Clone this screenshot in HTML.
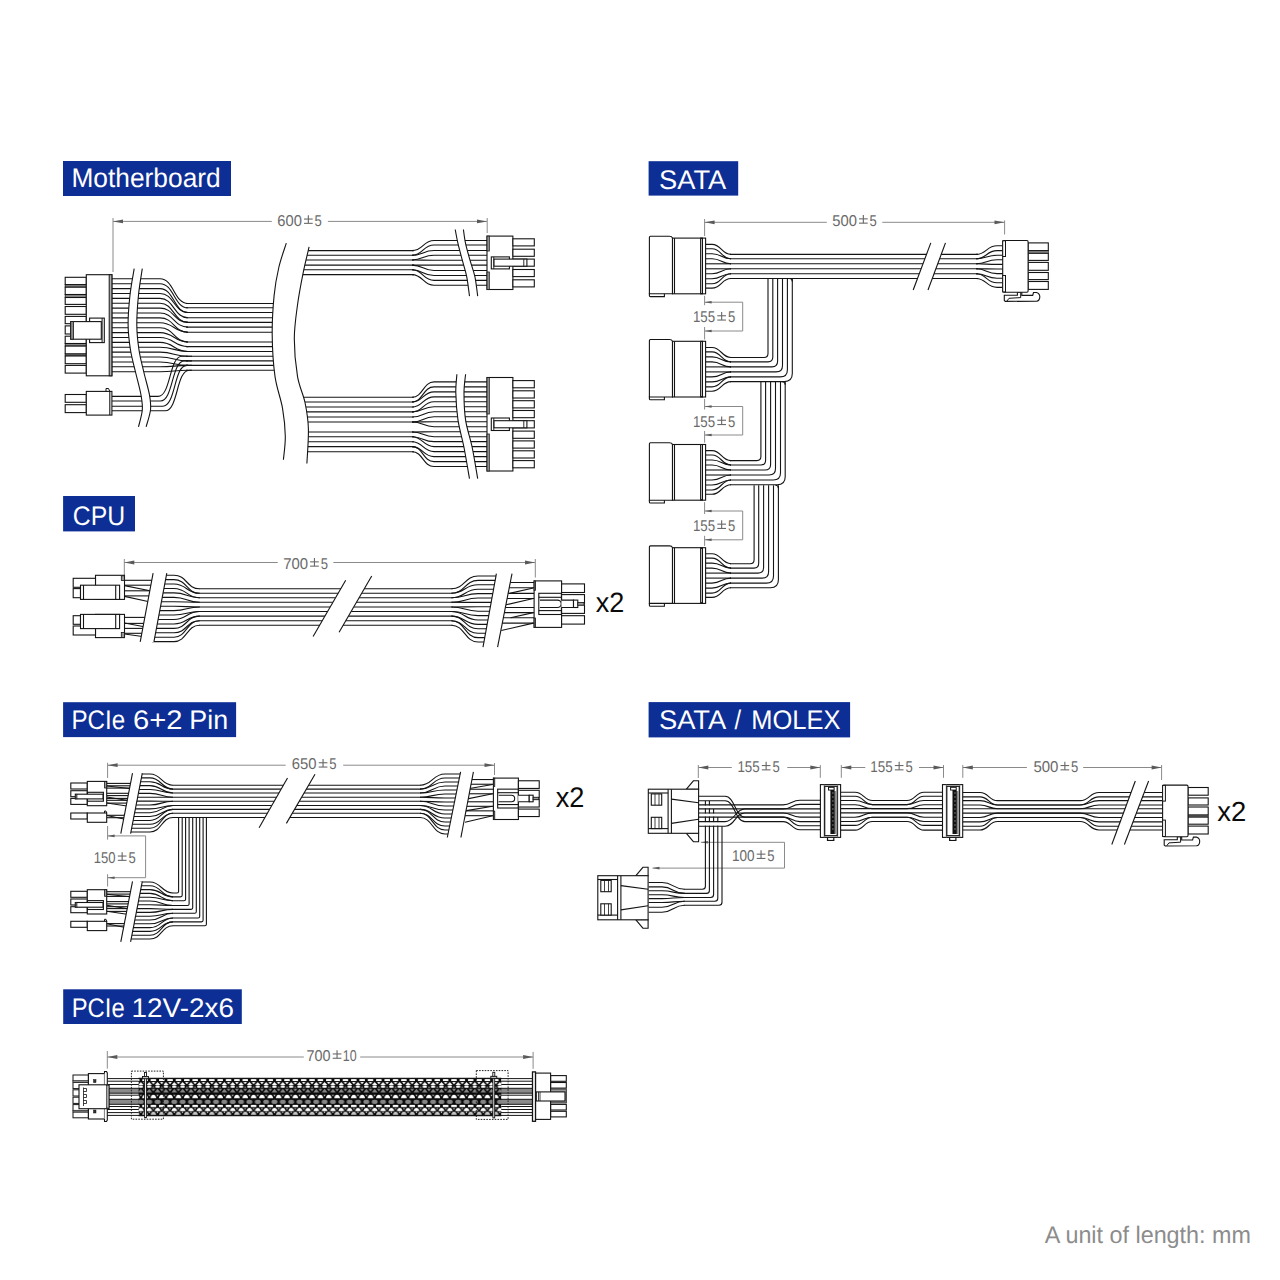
<!DOCTYPE html>
<html><head><meta charset="utf-8"><title>PSU cables</title>
<style>
html,body{margin:0;padding:0;background:#fff;}
svg{display:block;font-family:"Liberation Sans",sans-serif;text-rendering:geometricPrecision;}
</style></head><body>
<svg width="1280" height="1280" viewBox="0 0 1280 1280">
<defs><pattern id="braid" patternUnits="userSpaceOnUse" x="195.15" y="1078.1" width="8.35" height="37.7"><rect x="0" y="0" width="8.35" height="37.7" fill="#0a0a0a"/><rect x="-2.8" y="1.1" width="5.6" height="1.9" rx="0.6" fill="#ffffff"/><polygon points="-1.8,3.9 0,6.3 1.8,3.9" fill="#ffffff"/><polygon points="-1.1,9.7 0,7.9 1.1,9.7" fill="#858585"/><polygon points="-1.9,10.7 0,13.4 1.9,10.7" fill="#858585"/><path d="M-2.95,20 C-2.07,15.58 2.07,15.58 2.95,20 Z" fill="#ffffff"/><rect x="-2.8" y="26.7" width="5.6" height="2.3" rx="0.6" fill="#ffffff"/><ellipse cx="0" cy="30.6" rx="0.8" ry="0.7" fill="#ffffff"/><path d="M-2.8,36.6 C-1.96,32.57 1.96,32.57 2.8,36.6 Z" fill="#c4c4c4"/><rect x="5.55" y="1.1" width="5.6" height="1.9" rx="0.6" fill="#ffffff"/><polygon points="6.55,3.9 8.35,6.3 10.15,3.9" fill="#ffffff"/><polygon points="7.25,9.7 8.35,7.9 9.45,9.7" fill="#858585"/><polygon points="6.45,10.7 8.35,13.4 10.25,10.7" fill="#858585"/><path d="M5.4,20 C6.28,15.58 10.42,15.58 11.3,20 Z" fill="#ffffff"/><rect x="5.55" y="26.7" width="5.6" height="2.3" rx="0.6" fill="#ffffff"/><ellipse cx="8.35" cy="30.6" rx="0.8" ry="0.7" fill="#ffffff"/><path d="M5.55,36.6 C6.39,32.57 10.31,32.57 11.15,36.6 Z" fill="#c4c4c4"/><polygon points="1.38,6.9 4.17,3.9 6.97,6.9" fill="#ffffff"/><rect x="2.17" y="7.5" width="4" height="2.2" rx="0.6" fill="#ffffff"/><polygon points="1.27,14.5 4.17,10.7 7.07,14.5" fill="#858585"/><polygon points="3.07,16.7 4.17,18.3 5.28,16.7" fill="#c4c4c4"/><ellipse cx="4.17" cy="23.7" rx="2.95" ry="2.1" fill="#858585"/><path d="M1.22,33.1 C2.11,28.68 6.24,28.68 7.12,33.1 Z" fill="#ffffff"/><polygon points="3.17,33.6 4.17,35 5.17,33.6" fill="#ffffff"/></pattern></defs>
<rect x="0" y="0" width="1280" height="1280" fill="#fff"/>
<rect x="63" y="161" width="168" height="35" stroke="none" stroke-width="1.1" fill="#0d2e94" />
<text x="71.44" y="186.6" font-size="26.9" fill="#fff" text-anchor="start" font-weight="normal" textLength="149.26" lengthAdjust="spacingAndGlyphs">Motherboard</text>
<line x1="113" y1="218" x2="113" y2="272" stroke="#8a8a8a" stroke-width="1" />
<line x1="487.2" y1="218" x2="487.2" y2="233" stroke="#8a8a8a" stroke-width="1" />
<line x1="113" y1="221.4" x2="271.8" y2="221.4" stroke="#8a8a8a" stroke-width="1" />
<line x1="327.9" y1="221.4" x2="487" y2="221.4" stroke="#8a8a8a" stroke-width="1" />
<text x="277.35" y="225.75" font-size="15.6" fill="#6a6a6a" text-anchor="start" font-weight="normal" textLength="24.52" lengthAdjust="spacingAndGlyphs">600</text>
<text x="314.58" y="225.75" font-size="15.6" fill="#6a6a6a" text-anchor="start" font-weight="normal" textLength="7.27" lengthAdjust="spacingAndGlyphs">5</text>
<line x1="304" y1="219.05" x2="312.7" y2="219.05" stroke="#6a6a6a" stroke-width="1.1" />
<line x1="304" y1="223.35" x2="312.7" y2="223.35" stroke="#6a6a6a" stroke-width="1.1" />
<line x1="308.35" y1="215.25" x2="308.35" y2="223.35" stroke="#6a6a6a" stroke-width="1.15" />
<polygon points="113,221.4 123,219.5 123,223.3" stroke="none" stroke-width="1.1" fill="#5a5a5a"/>
<polygon points="487,221.4 477,219.5 477,223.3" stroke="none" stroke-width="1.1" fill="#5a5a5a"/>
<path d="M112,278.8 L160,278.8 C174,278.8 174,303.5 188,303.5" stroke="#141414" stroke-width="1.1" fill="none" />
<path d="M112,283.69 L160,283.69 C174,283.69 174,307.8 188,307.8" stroke="#141414" stroke-width="1.1" fill="none" />
<path d="M112,288.58 L160,288.58 C174,288.58 174,312.5 188,312.5" stroke="#141414" stroke-width="1.1" fill="none" />
<path d="M112,293.47 L160,293.47 C174,293.47 174,312.5 188,312.5" stroke="#141414" stroke-width="1.1" fill="none" />
<path d="M112,298.36 L160,298.36 C174,298.36 174,317.8 188,317.8" stroke="#141414" stroke-width="1.1" fill="none" />
<path d="M112,303.25 L160,303.25 C174,303.25 174,322.4 188,322.4" stroke="#141414" stroke-width="1.1" fill="none" />
<path d="M112,308.14 L160,308.14 C174,308.14 174,322.4 188,322.4" stroke="#141414" stroke-width="1.1" fill="none" />
<path d="M112,313.03 L160,313.03 C174,313.03 174,327.1 188,327.1" stroke="#141414" stroke-width="1.1" fill="none" />
<path d="M112,317.92 L160,317.92 C174,317.92 174,332.2 188,332.2" stroke="#141414" stroke-width="1.1" fill="none" />
<path d="M112,322.81 L160,322.81 C174,322.81 174,332.2 188,332.2" stroke="#141414" stroke-width="1.1" fill="none" />
<path d="M112,327.7 L160,327.7 C174,327.7 174,342 188,342" stroke="#141414" stroke-width="1.1" fill="none" />
<path d="M112,332.59 L160,332.59 C174,332.59 174,342 188,342" stroke="#141414" stroke-width="1.1" fill="none" />
<path d="M112,337.48 L160,337.48 C174,337.48 174,346.6 188,346.6" stroke="#141414" stroke-width="1.1" fill="none" />
<path d="M112,342.37 L160,342.37 C174,342.37 174,351.5 188,351.5" stroke="#141414" stroke-width="1.1" fill="none" />
<path d="M112,347.26 L160,347.26 C174,347.26 174,351.5 188,351.5" stroke="#141414" stroke-width="1.1" fill="none" />
<path d="M112,352.15 L160,352.15 C174,352.15 174,356.2 188,356.2" stroke="#141414" stroke-width="1.1" fill="none" />
<path d="M112,357.04 L160,357.04 C174,357.04 174,360.9 188,360.9" stroke="#141414" stroke-width="1.1" fill="none" />
<path d="M112,361.93 L160,361.93 C174,361.93 174,365.4 188,365.4" stroke="#141414" stroke-width="1.1" fill="none" />
<path d="M112,366.82 L160,366.82 C174,366.82 174,365.4 188,365.4" stroke="#141414" stroke-width="1.1" fill="none" />
<path d="M112,371.71 L160,371.71 C174,371.71 174,370.3 188,370.3" stroke="#141414" stroke-width="1.1" fill="none" />
<line x1="186" y1="303.5" x2="285" y2="303.5" stroke="#141414" stroke-width="1.1" />
<line x1="186" y1="307.8" x2="285" y2="307.8" stroke="#141414" stroke-width="1.1" />
<line x1="186" y1="312.5" x2="285" y2="312.5" stroke="#141414" stroke-width="1.1" />
<line x1="186" y1="317.8" x2="285" y2="317.8" stroke="#141414" stroke-width="1.1" />
<line x1="186" y1="322.4" x2="285" y2="322.4" stroke="#141414" stroke-width="1.1" />
<line x1="186" y1="327.1" x2="285" y2="327.1" stroke="#141414" stroke-width="1.1" />
<line x1="186" y1="332.2" x2="285" y2="332.2" stroke="#141414" stroke-width="1.1" />
<line x1="186" y1="342" x2="285" y2="342" stroke="#141414" stroke-width="1.1" />
<line x1="186" y1="346.6" x2="285" y2="346.6" stroke="#141414" stroke-width="1.1" />
<line x1="186" y1="351.5" x2="285" y2="351.5" stroke="#141414" stroke-width="1.1" />
<line x1="186" y1="356.2" x2="285" y2="356.2" stroke="#141414" stroke-width="1.1" />
<line x1="186" y1="360.9" x2="285" y2="360.9" stroke="#141414" stroke-width="1.1" />
<line x1="186" y1="365.4" x2="285" y2="365.4" stroke="#141414" stroke-width="1.1" />
<line x1="186" y1="370.3" x2="285" y2="370.3" stroke="#141414" stroke-width="1.1" />
<path d="M112,396.4 L158,396.4 C171,396.4 169,356.2 182,356.2 L192,356.2" stroke="#141414" stroke-width="1.1" fill="none" />
<path d="M112,401 L160.4,401 C173.4,401 171.4,360.9 184.4,360.9 L192,360.9" stroke="#141414" stroke-width="1.1" fill="none" />
<path d="M112,406.2 L162.8,406.2 C175.8,406.2 173.8,365.4 186.8,365.4 L192,365.4" stroke="#141414" stroke-width="1.1" fill="none" />
<path d="M112,410.7 L165.2,410.7 C178.2,410.7 176.2,370.3 189.2,370.3 L192,370.3" stroke="#141414" stroke-width="1.1" fill="none" />
<polygon points="134.2,268.6 133.99,269.86 133.72,271.43 133.39,273.26 133.03,275.31 132.63,277.55 132.22,279.93 131.8,282.41 131.39,284.96 130.99,287.53 130.62,290.09 130.28,292.59 130,295 129.75,297.39 129.5,299.85 129.26,302.36 129.04,304.92 128.83,307.5 128.64,310.09 128.47,312.67 128.33,315.24 128.22,317.77 128.14,320.25 128.1,322.66 128.1,325 128.14,327.27 128.22,329.49 128.34,331.67 128.49,333.81 128.66,335.92 128.87,338 129.1,340.05 129.35,342.07 129.62,344.08 129.9,346.06 130.2,348.04 130.5,350 130.82,351.94 131.18,353.83 131.56,355.69 131.96,357.52 132.37,359.33 132.81,361.12 133.25,362.91 133.7,364.7 134.15,366.5 134.61,368.31 135.06,370.14 135.5,372 135.95,373.91 136.44,375.87 136.94,377.87 137.45,379.89 137.97,381.92 138.48,383.94 138.98,385.93 139.46,387.89 139.91,389.79 140.32,391.62 140.69,393.36 141,395 141.27,396.52 141.52,397.94 141.74,399.27 141.93,400.53 142.1,401.73 142.23,402.89 142.33,404.03 142.4,405.16 142.43,406.31 142.43,407.49 142.38,408.71 142.3,410 142.15,411.39 141.92,412.89 141.62,414.47 141.27,416.09 140.89,417.72 140.48,419.34 140.07,420.9 139.67,422.38 139.3,423.74 138.97,424.95 138.7,425.98 138.5,426.8 146.1,426.8 146.33,425.98 146.64,424.95 147.02,423.74 147.44,422.38 147.89,420.9 148.36,419.34 148.83,417.72 149.27,416.09 149.68,414.47 150.03,412.89 150.31,411.39 150.5,410 150.62,408.71 150.7,407.49 150.74,406.31 150.74,405.16 150.7,404.03 150.63,402.89 150.52,401.73 150.38,400.53 150.21,399.27 150,397.94 149.77,396.52 149.5,395 149.19,393.36 148.81,391.62 148.38,389.79 147.91,387.89 147.41,385.93 146.89,383.94 146.35,381.92 145.81,379.89 145.27,377.87 144.75,375.87 144.26,373.91 143.8,372 143.36,370.14 142.92,368.31 142.48,366.5 142.04,364.7 141.6,362.91 141.18,361.12 140.77,359.33 140.37,357.52 140,355.69 139.64,353.83 139.31,351.94 139,350 138.71,348.04 138.44,346.06 138.18,344.08 137.93,342.07 137.7,340.05 137.49,338 137.31,335.92 137.15,333.81 137.01,331.67 136.91,329.49 136.84,327.27 136.8,325 136.8,322.66 136.83,320.25 136.9,317.77 137,315.24 137.13,312.67 137.28,310.09 137.45,307.5 137.63,304.92 137.84,302.36 138.05,299.85 138.27,297.39 138.5,295 138.76,292.59 139.06,290.09 139.39,287.53 139.75,284.96 140.13,282.41 140.51,279.93 140.88,277.55 141.24,275.31 141.57,273.26 141.86,271.43 142.11,269.86 142.3,268.6" stroke="none" stroke-width="1.1" fill="#fff"/>
<path d="M134.2,268.6 C133.5,273 131.02,285.6 130,295 C128.98,304.4 128.02,315.83 128.1,325 C128.18,334.17 129.27,342.17 130.5,350 C131.73,357.83 133.75,364.5 135.5,372 C137.25,379.5 139.87,388.67 141,395 C142.13,401.33 142.72,404.7 142.3,410 C141.88,415.3 139.13,424 138.5,426.8" stroke="#141414" stroke-width="1.1" fill="none" />
<path d="M142.3,268.6 C141.67,273 139.42,285.6 138.5,295 C137.58,304.4 136.72,315.83 136.8,325 C136.88,334.17 137.83,342.17 139,350 C140.17,357.83 142.05,364.5 143.8,372 C145.55,379.5 148.38,388.67 149.5,395 C150.62,401.33 151.07,404.7 150.5,410 C149.93,415.3 146.83,424 146.1,426.8" stroke="#141414" stroke-width="1.1" fill="none" />
<rect x="65.2" y="284.6" width="21.1" height="2.6" stroke="#141414" stroke-width="0.8" fill="#8a8a8a" />
<rect x="65.2" y="294.5" width="21.1" height="3" stroke="#141414" stroke-width="0.8" fill="#8a8a8a" />
<rect x="65.2" y="343.5" width="21.1" height="2.6" stroke="#141414" stroke-width="0.8" fill="#8a8a8a" />
<rect x="65.2" y="353.8" width="21.1" height="2.2" stroke="#141414" stroke-width="0.8" fill="#8a8a8a" />
<rect x="65.2" y="277.3" width="21.1" height="7.3" stroke="#141414" stroke-width="1.1" fill="#fff" />
<rect x="65.2" y="287.2" width="21.1" height="7.3" stroke="#141414" stroke-width="1.1" fill="#fff" />
<rect x="65.2" y="297.5" width="21.1" height="6.9" stroke="#141414" stroke-width="1.1" fill="#fff" />
<rect x="65.2" y="306.5" width="21.1" height="7.8" stroke="#141414" stroke-width="1.1" fill="#fff" />
<rect x="65.2" y="316.4" width="21.1" height="7.3" stroke="#141414" stroke-width="1.1" fill="#fff" />
<rect x="65.2" y="325.9" width="21.1" height="8.1" stroke="#141414" stroke-width="1.1" fill="#fff" />
<rect x="65.2" y="336.2" width="21.1" height="7.3" stroke="#141414" stroke-width="1.1" fill="#fff" />
<rect x="65.2" y="346.1" width="21.1" height="7.7" stroke="#141414" stroke-width="1.1" fill="#fff" />
<rect x="65.2" y="356" width="21.1" height="7.7" stroke="#141414" stroke-width="1.1" fill="#fff" />
<rect x="65.2" y="365.4" width="21.1" height="7.7" stroke="#141414" stroke-width="1.1" fill="#fff" />
<rect x="86.3" y="274.7" width="25.6" height="101.1" stroke="#141414" stroke-width="1.1" fill="#fff" />
<rect x="109.2" y="274.7" width="2.7" height="101.1" stroke="#141414" stroke-width="1" fill="#b0b0b0" />
<rect x="89.6" y="318.1" width="14.7" height="24.5" stroke="#141414" stroke-width="1.1" fill="#fff" />
<line x1="102.1" y1="318.1" x2="102.1" y2="342.6" stroke="#141414" stroke-width="1" />
<rect x="70.7" y="321.6" width="30.6" height="17.6" stroke="#141414" stroke-width="1.1" fill="#fff" />
<rect x="70.7" y="321.6" width="2.8" height="17.6" stroke="#141414" stroke-width="0.8" fill="#888" />
<rect x="65.2" y="394.5" width="21.1" height="7.8" stroke="#141414" stroke-width="1.1" fill="#fff" />
<rect x="65.2" y="404.7" width="21.1" height="7.9" stroke="#141414" stroke-width="1.1" fill="#fff" />
<rect x="86.3" y="391.4" width="25.6" height="23.7" stroke="#141414" stroke-width="1.1" fill="#fff" />
<line x1="109.8" y1="391.4" x2="109.8" y2="415.1" stroke="#141414" stroke-width="1.1" />
<path d="M106,391.4 L106,388.5 L108.5,388.5 L109.8,391.4" stroke="#141414" stroke-width="1" fill="none" />
<line x1="292" y1="250.6" x2="414" y2="250.6" stroke="#141414" stroke-width="1.1" />
<line x1="292" y1="255.3" x2="414" y2="255.3" stroke="#141414" stroke-width="1.1" />
<line x1="292" y1="260" x2="414" y2="260" stroke="#141414" stroke-width="1.1" />
<line x1="292" y1="265.1" x2="414" y2="265.1" stroke="#141414" stroke-width="1.1" />
<line x1="292" y1="269.8" x2="414" y2="269.8" stroke="#141414" stroke-width="1.1" />
<line x1="292" y1="274.6" x2="414" y2="274.6" stroke="#141414" stroke-width="1.1" />
<path d="M412,250.6 C423,250.6 423,240.5 434,240.5 L488,240.5" stroke="#141414" stroke-width="1.1" fill="none" />
<path d="M412,255.3 C423,255.3 423,245 434,245 L488,245" stroke="#141414" stroke-width="1.1" fill="none" />
<path d="M412,255.3 C423,255.3 423,250.5 434,250.5 L488,250.5" stroke="#141414" stroke-width="1.1" fill="none" />
<path d="M412,260 C423,260 423,255.2 434,255.2 L488,255.2" stroke="#141414" stroke-width="1.1" fill="none" />
<path d="M412,260 C423,260 423,260.2 434,260.2 L488,260.2" stroke="#141414" stroke-width="1.1" fill="none" />
<path d="M412,265.1 L434,265.1 L488,265.1" stroke="#141414" stroke-width="1.1" fill="none" />
<path d="M412,265.1 C423,265.1 423,270.5 434,270.5 L488,270.5" stroke="#141414" stroke-width="1.1" fill="none" />
<path d="M412,269.8 C423,269.8 423,275.5 434,275.5 L488,275.5" stroke="#141414" stroke-width="1.1" fill="none" />
<path d="M412,269.8 C423,269.8 423,280.4 434,280.4 L488,280.4" stroke="#141414" stroke-width="1.1" fill="none" />
<path d="M412,274.6 C423,274.6 423,285.3 434,285.3 L488,285.3" stroke="#141414" stroke-width="1.1" fill="none" />
<line x1="292" y1="397.3" x2="414" y2="397.3" stroke="#141414" stroke-width="1.1" />
<line x1="292" y1="402" x2="414" y2="402" stroke="#141414" stroke-width="1.1" />
<line x1="292" y1="407" x2="414" y2="407" stroke="#141414" stroke-width="1.1" />
<line x1="292" y1="411.9" x2="414" y2="411.9" stroke="#141414" stroke-width="1.1" />
<line x1="292" y1="417" x2="414" y2="417" stroke="#141414" stroke-width="1.1" />
<line x1="292" y1="422" x2="414" y2="422" stroke="#141414" stroke-width="1.1" />
<line x1="292" y1="432" x2="414" y2="432" stroke="#141414" stroke-width="1.1" />
<line x1="292" y1="436.7" x2="414" y2="436.7" stroke="#141414" stroke-width="1.1" />
<line x1="292" y1="441.7" x2="414" y2="441.7" stroke="#141414" stroke-width="1.1" />
<line x1="292" y1="446.6" x2="414" y2="446.6" stroke="#141414" stroke-width="1.1" />
<line x1="292" y1="451.7" x2="414" y2="451.7" stroke="#141414" stroke-width="1.1" />
<path d="M412,397.3 C423,397.3 423,381.9 434,381.9 L488,381.9" stroke="#141414" stroke-width="1.1" fill="none" />
<path d="M412,402 C423,402 423,386.88 434,386.88 L488,386.88" stroke="#141414" stroke-width="1.1" fill="none" />
<path d="M412,402 C423,402 423,391.86 434,391.86 L488,391.86" stroke="#141414" stroke-width="1.1" fill="none" />
<path d="M412,407 C423,407 423,396.84 434,396.84 L488,396.84" stroke="#141414" stroke-width="1.1" fill="none" />
<path d="M412,411.9 C423,411.9 423,401.82 434,401.82 L488,401.82" stroke="#141414" stroke-width="1.1" fill="none" />
<path d="M412,411.9 C423,411.9 423,406.8 434,406.8 L488,406.8" stroke="#141414" stroke-width="1.1" fill="none" />
<path d="M412,417 C423,417 423,411.78 434,411.78 L488,411.78" stroke="#141414" stroke-width="1.1" fill="none" />
<path d="M412,422 C423,422 423,416.76 434,416.76 L488,416.76" stroke="#141414" stroke-width="1.1" fill="none" />
<path d="M412,422 C423,422 423,421.74 434,421.74 L488,421.74" stroke="#141414" stroke-width="1.1" fill="none" />
<path d="M412,422 C423,422 423,426.72 434,426.72 L488,426.72" stroke="#141414" stroke-width="1.1" fill="none" />
<path d="M412,432 C423,432 423,431.7 434,431.7 L488,431.7" stroke="#141414" stroke-width="1.1" fill="none" />
<path d="M412,432 C423,432 423,436.68 434,436.68 L488,436.68" stroke="#141414" stroke-width="1.1" fill="none" />
<path d="M412,436.7 C423,436.7 423,441.66 434,441.66 L488,441.66" stroke="#141414" stroke-width="1.1" fill="none" />
<path d="M412,436.7 C423,436.7 423,446.64 434,446.64 L488,446.64" stroke="#141414" stroke-width="1.1" fill="none" />
<path d="M412,441.7 C423,441.7 423,451.62 434,451.62 L488,451.62" stroke="#141414" stroke-width="1.1" fill="none" />
<path d="M412,446.6 C423,446.6 423,456.6 434,456.6 L488,456.6" stroke="#141414" stroke-width="1.1" fill="none" />
<path d="M412,446.6 C423,446.6 423,461.58 434,461.58 L488,461.58" stroke="#141414" stroke-width="1.1" fill="none" />
<path d="M412,451.7 C423,451.7 423,466.56 434,466.56 L488,466.56" stroke="#141414" stroke-width="1.1" fill="none" />
<polygon points="286.3,243.1 285.93,244.27 285.45,245.71 284.89,247.4 284.25,249.29 283.56,251.35 282.84,253.54 282.11,255.84 281.37,258.19 280.65,260.57 279.97,262.94 279.35,265.26 278.8,267.5 278.3,269.68 277.82,271.84 277.36,274 276.92,276.17 276.5,278.37 276.1,280.61 275.72,282.9 275.36,285.26 275.01,287.69 274.69,290.22 274.38,292.85 274.1,295.6 273.83,298.48 273.57,301.49 273.32,304.61 273.09,307.83 272.87,311.12 272.68,314.48 272.52,317.88 272.38,321.31 272.28,324.75 272.21,328.19 272.18,331.61 272.2,335 272.25,338.41 272.34,341.88 272.46,345.41 272.61,348.98 272.8,352.55 273.01,356.12 273.26,359.67 273.54,363.17 273.86,366.6 274.21,369.94 274.59,373.18 275,376.3 275.48,379.29 276.03,382.19 276.65,385 277.33,387.74 278.03,390.41 278.75,393.02 279.47,395.59 280.17,398.12 280.85,400.63 281.47,403.12 282.02,405.61 282.5,408.1 282.91,410.59 283.29,413.06 283.64,415.52 283.96,417.94 284.24,420.35 284.49,422.73 284.7,425.07 284.89,427.39 285.04,429.67 285.16,431.92 285.25,434.13 285.3,436.3 285.3,438.49 285.23,440.75 285.11,443.04 284.94,445.32 284.75,447.58 284.52,449.76 284.29,451.85 284.07,453.81 283.85,455.61 283.66,457.21 283.51,458.58 283.4,459.7 306.9,463.4 306.99,461.7 307.12,459.54 307.28,456.99 307.47,454.12 307.67,451.02 307.86,447.74 308.05,444.38 308.21,441 308.33,437.68 308.42,434.49 308.44,431.5 308.4,428.8 308.3,426.32 308.16,423.94 307.99,421.64 307.78,419.41 307.54,417.25 307.26,415.12 306.96,413.03 306.62,410.95 306.25,408.87 305.86,406.78 305.44,404.66 305,402.5 304.5,400.35 303.94,398.26 303.31,396.21 302.64,394.18 301.95,392.15 301.24,390.1 300.53,388.01 299.83,385.87 299.17,383.64 298.55,381.32 297.99,378.88 297.5,376.3 297.06,373.56 296.64,370.66 296.25,367.63 295.88,364.5 295.54,361.29 295.23,358.02 294.96,354.73 294.73,351.44 294.55,348.18 294.41,344.97 294.33,341.83 294.3,338.8 294.33,335.85 294.44,332.93 294.59,330.05 294.8,327.19 295.06,324.36 295.35,321.55 295.67,318.76 296.02,315.99 296.38,313.23 296.75,310.48 297.13,307.74 297.5,305 297.88,302.26 298.29,299.51 298.72,296.76 299.17,294.01 299.64,291.29 300.12,288.58 300.62,285.89 301.11,283.24 301.62,280.63 302.12,278.06 302.61,275.55 303.1,273.1 303.61,270.63 304.15,268.1 304.71,265.54 305.29,262.97 305.88,260.45 306.45,258.01 307.01,255.67 307.53,253.48 308.01,251.47 308.44,249.68 308.81,248.15 309.1,246.9" stroke="none" stroke-width="1.1" fill="#fff"/>
<path d="M286.3,243.1 C285.05,247.17 280.83,258.75 278.8,267.5 C276.77,276.25 275.2,284.35 274.1,295.6 C273,306.85 272.05,321.55 272.2,335 C272.35,348.45 273.28,364.12 275,376.3 C276.72,388.48 280.78,398.1 282.5,408.1 C284.22,418.1 285.15,427.7 285.3,436.3 C285.45,444.9 283.72,455.8 283.4,459.7" stroke="#141414" stroke-width="1.1" fill="none" />
<path d="M309.1,246.9 C308.1,251.27 305.03,263.42 303.1,273.1 C301.17,282.78 298.97,294.05 297.5,305 C296.03,315.95 294.3,326.92 294.3,338.8 C294.3,350.68 295.72,365.68 297.5,376.3 C299.28,386.92 303.18,393.75 305,402.5 C306.82,411.25 308.08,418.65 308.4,428.8 C308.72,438.95 307.15,457.63 306.9,463.4" stroke="#141414" stroke-width="1.1" fill="none" />
<polygon points="455.2,229.5 455.33,230.18 455.49,231.02 455.67,232 455.87,233.1 456.09,234.29 456.33,235.57 456.59,236.9 456.85,238.27 457.13,239.66 457.41,241.04 457.71,242.39 458,243.7 458.31,244.99 458.63,246.32 458.97,247.67 459.32,249.03 459.68,250.42 460.05,251.81 460.43,253.22 460.8,254.62 461.18,256.03 461.56,257.43 461.93,258.82 462.3,260.2 462.67,261.56 463.05,262.9 463.43,264.23 463.82,265.56 464.21,266.88 464.59,268.21 464.98,269.54 465.35,270.9 465.71,272.28 466.06,273.68 466.39,275.12 466.7,276.6 467,278.18 467.29,279.91 467.58,281.73 467.86,283.62 468.12,285.53 468.38,287.43 468.61,289.26 468.83,291 469.03,292.6 469.21,294.03 469.37,295.24 469.5,296.2 477.7,296.2 477.57,295.24 477.42,294.03 477.25,292.6 477.05,291 476.84,289.26 476.61,287.43 476.36,285.53 476.09,283.62 475.81,281.73 475.52,279.91 475.22,278.18 474.9,276.6 474.56,275.12 474.2,273.68 473.81,272.28 473.4,270.9 472.98,269.54 472.55,268.21 472.11,266.88 471.67,265.56 471.24,264.23 470.81,262.9 470.4,261.56 470,260.2 469.61,258.82 469.21,257.43 468.81,256.03 468.41,254.62 468.02,253.22 467.63,251.81 467.25,250.42 466.89,249.03 466.53,247.67 466.2,246.32 465.89,244.99 465.6,243.7 465.33,242.39 465.08,241.04 464.84,239.66 464.62,238.27 464.42,236.9 464.22,235.57 464.05,234.29 463.89,233.1 463.74,232 463.61,231.02 463.5,230.18 463.4,229.5" stroke="none" stroke-width="1.1" fill="#fff"/>
<path d="M455.2,229.5 C455.67,231.87 456.82,238.58 458,243.7 C459.18,248.82 460.85,254.72 462.3,260.2 C463.75,265.68 465.5,270.6 466.7,276.6 C467.9,282.6 469.03,292.93 469.5,296.2" stroke="#141414" stroke-width="1.1" fill="none" />
<path d="M463.4,229.5 C463.77,231.87 464.5,238.58 465.6,243.7 C466.7,248.82 468.45,254.72 470,260.2 C471.55,265.68 473.62,270.6 474.9,276.6 C476.18,282.6 477.23,292.93 477.7,296.2" stroke="#141414" stroke-width="1.1" fill="none" />
<polygon points="456.9,374.2 456.84,375.07 456.74,376.12 456.62,377.34 456.49,378.7 456.35,380.19 456.21,381.79 456.08,383.48 455.96,385.26 455.87,387.1 455.81,388.98 455.78,390.88 455.8,392.8 455.86,394.78 455.93,396.86 456.03,399.03 456.15,401.29 456.29,403.6 456.46,405.96 456.65,408.34 456.86,410.75 457.11,413.15 457.38,415.54 457.67,417.89 458,420.2 458.37,422.47 458.79,424.71 459.24,426.94 459.74,429.16 460.26,431.38 460.79,433.61 461.34,435.85 461.9,438.11 462.45,440.4 462.98,442.73 463.51,445.09 464,447.5 464.49,450.06 465.01,452.84 465.54,455.76 466.07,458.77 466.61,461.8 467.12,464.81 467.62,467.71 468.09,470.47 468.52,473 468.91,475.26 469.24,477.18 469.5,478.7 477.7,478.7 477.44,477.18 477.11,475.26 476.74,473 476.31,470.47 475.85,467.71 475.36,464.81 474.85,461.8 474.32,458.77 473.78,455.76 473.24,452.84 472.71,450.06 472.2,447.5 471.67,445.09 471.11,442.73 470.51,440.4 469.9,438.11 469.27,435.85 468.66,433.61 468.05,431.38 467.47,429.16 466.92,426.94 466.42,424.71 465.98,422.47 465.6,420.2 465.28,417.89 465.01,415.54 464.77,413.15 464.58,410.75 464.42,408.34 464.29,405.96 464.19,403.6 464.11,401.29 464.06,399.03 464.02,396.86 464.01,394.78 464,392.8 464.03,390.88 464.1,388.98 464.21,387.1 464.36,385.26 464.52,383.48 464.7,381.79 464.88,380.19 465.07,378.7 465.24,377.34 465.39,376.12 465.51,375.07 465.6,374.2" stroke="none" stroke-width="1.1" fill="#fff"/>
<path d="M456.9,374.2 C456.72,377.3 455.62,385.13 455.8,392.8 C455.98,400.47 456.63,411.08 458,420.2 C459.37,429.32 462.08,437.75 464,447.5 C465.92,457.25 468.58,473.5 469.5,478.7" stroke="#141414" stroke-width="1.1" fill="none" />
<path d="M465.6,374.2 C465.33,377.3 464,385.13 464,392.8 C464,400.47 464.23,411.08 465.6,420.2 C466.97,429.32 470.18,437.75 472.2,447.5 C474.22,457.25 476.78,473.5 477.7,478.7" stroke="#141414" stroke-width="1.1" fill="none" />
<rect x="487" y="236.1" width="25.9" height="53.4" stroke="#141414" stroke-width="1.1" fill="#fff" />
<rect x="487" y="236.1" width="2.3" height="14.9" stroke="#141414" stroke-width="0.8" fill="#999" />
<rect x="487" y="272" width="2.3" height="17.5" stroke="#141414" stroke-width="0.8" fill="#999" />
<rect x="512.9" y="238.8" width="21.4" height="7.1" stroke="#141414" stroke-width="1.1" fill="#fff" />
<rect x="512.9" y="249.2" width="21.4" height="7.1" stroke="#141414" stroke-width="1.1" fill="#fff" />
<rect x="512.9" y="259.1" width="21.4" height="7.1" stroke="#141414" stroke-width="1.1" fill="#fff" />
<rect x="512.9" y="269.5" width="21.4" height="7.1" stroke="#141414" stroke-width="1.1" fill="#fff" />
<rect x="512.9" y="279.8" width="21.4" height="7.1" stroke="#141414" stroke-width="1.1" fill="#fff" />
<rect x="491.3" y="256.9" width="18.1" height="12" stroke="#141414" stroke-width="1.1" fill="#fff" />
<line x1="493.8" y1="256.9" x2="493.8" y2="268.9" stroke="#141414" stroke-width="0.9" />
<rect x="494" y="259.1" width="32.9" height="7.1" stroke="#141414" stroke-width="1.1" fill="#fff" />
<line x1="523.8" y1="259.1" x2="523.8" y2="266.2" stroke="#141414" stroke-width="0.9" />
<rect x="487" y="377.5" width="25.9" height="93.5" stroke="#141414" stroke-width="1.1" fill="#fff" />
<rect x="487" y="377.5" width="2.3" height="36.5" stroke="#141414" stroke-width="0.8" fill="#999" />
<rect x="487" y="434" width="2.3" height="37" stroke="#141414" stroke-width="0.8" fill="#999" />
<rect x="512.9" y="380.6" width="21.4" height="7.2" stroke="#141414" stroke-width="1.1" fill="#fff" />
<rect x="512.9" y="390.8" width="21.4" height="7.2" stroke="#141414" stroke-width="1.1" fill="#fff" />
<rect x="512.9" y="400.7" width="21.4" height="7.2" stroke="#141414" stroke-width="1.1" fill="#fff" />
<rect x="512.9" y="410.5" width="21.4" height="7.2" stroke="#141414" stroke-width="1.1" fill="#fff" />
<rect x="512.9" y="420.7" width="21.4" height="7.2" stroke="#141414" stroke-width="1.1" fill="#fff" />
<rect x="512.9" y="431.1" width="21.4" height="7.2" stroke="#141414" stroke-width="1.1" fill="#fff" />
<rect x="512.9" y="440.9" width="21.4" height="7.2" stroke="#141414" stroke-width="1.1" fill="#fff" />
<rect x="512.9" y="450.8" width="21.4" height="7.2" stroke="#141414" stroke-width="1.1" fill="#fff" />
<rect x="512.9" y="460.6" width="21.4" height="7.2" stroke="#141414" stroke-width="1.1" fill="#fff" />
<rect x="491.3" y="418" width="18.1" height="12.5" stroke="#141414" stroke-width="1.1" fill="#fff" />
<line x1="493.8" y1="418" x2="493.8" y2="430.5" stroke="#141414" stroke-width="0.9" />
<rect x="494" y="420.7" width="32.9" height="7.1" stroke="#141414" stroke-width="1.1" fill="#fff" />
<line x1="523.8" y1="420.7" x2="523.8" y2="427.8" stroke="#141414" stroke-width="0.9" />
<rect x="63.1" y="496" width="71.9" height="35.4" stroke="none" stroke-width="1.1" fill="#0d2e94" />
<text x="72.74" y="525.4" font-size="26.9" fill="#fff" text-anchor="start" font-weight="normal" textLength="52.37" lengthAdjust="spacingAndGlyphs">CPU</text>
<line x1="124.3" y1="559" x2="124.3" y2="577" stroke="#8a8a8a" stroke-width="1" />
<line x1="535.3" y1="559" x2="535.3" y2="577.5" stroke="#8a8a8a" stroke-width="1" />
<line x1="124.3" y1="562.5" x2="277.7" y2="562.5" stroke="#8a8a8a" stroke-width="1" />
<line x1="333.4" y1="562.5" x2="535" y2="562.5" stroke="#8a8a8a" stroke-width="1" />
<text x="283.14" y="568.55" font-size="15.6" fill="#6a6a6a" text-anchor="start" font-weight="normal" textLength="24.85" lengthAdjust="spacingAndGlyphs">700</text>
<text x="320.68" y="568.55" font-size="15.6" fill="#6a6a6a" text-anchor="start" font-weight="normal" textLength="7.27" lengthAdjust="spacingAndGlyphs">5</text>
<line x1="310.1" y1="561.85" x2="318.8" y2="561.85" stroke="#6a6a6a" stroke-width="1.1" />
<line x1="310.1" y1="566.15" x2="318.8" y2="566.15" stroke="#6a6a6a" stroke-width="1.1" />
<line x1="314.45" y1="558.05" x2="314.45" y2="566.15" stroke="#6a6a6a" stroke-width="1.15" />
<polygon points="124.3,562.5 134.3,560.6 134.3,564.4" stroke="none" stroke-width="1.1" fill="#5a5a5a"/>
<polygon points="535,562.5 525,560.6 525,564.4" stroke="none" stroke-width="1.1" fill="#5a5a5a"/>
<line x1="124.5" y1="580.3" x2="152" y2="580.3" stroke="#141414" stroke-width="1.1" />
<line x1="124.5" y1="585.2" x2="152" y2="585.2" stroke="#141414" stroke-width="1.1" />
<line x1="124.5" y1="590.8" x2="152" y2="590.8" stroke="#141414" stroke-width="1.1" />
<line x1="124.5" y1="595.9" x2="152" y2="595.9" stroke="#141414" stroke-width="1.1" />
<line x1="124.5" y1="585.6" x2="150" y2="590.8" stroke="#141414" stroke-width="1.1" />
<line x1="124.5" y1="596.4" x2="148" y2="601.5" stroke="#141414" stroke-width="1.1" />
<line x1="124.5" y1="617.4" x2="152" y2="617.4" stroke="#141414" stroke-width="1.1" />
<line x1="124.5" y1="623.4" x2="152" y2="623.4" stroke="#141414" stroke-width="1.1" />
<line x1="124.5" y1="628.4" x2="152" y2="628.4" stroke="#141414" stroke-width="1.1" />
<line x1="124.5" y1="633.3" x2="152" y2="633.3" stroke="#141414" stroke-width="1.1" />
<line x1="124.5" y1="623" x2="148" y2="627.5" stroke="#141414" stroke-width="1.1" />
<line x1="124.5" y1="634" x2="146" y2="637" stroke="#141414" stroke-width="1.1" />
<path d="M164.42,575.2 L174,575.2 C186.75,575.2 186.75,588.8 199.5,588.8" stroke="#141414" stroke-width="1.1" fill="none" />
<path d="M163.59,579.63 L174,579.63 C186.75,579.63 186.75,593.3 199.5,593.3" stroke="#141414" stroke-width="1.1" fill="none" />
<path d="M162.76,584.06 L174,584.06 C186.75,584.06 186.75,593.3 199.5,593.3" stroke="#141414" stroke-width="1.1" fill="none" />
<path d="M161.93,588.49 L174,588.49 C186.75,588.49 186.75,597.8 199.5,597.8" stroke="#141414" stroke-width="1.1" fill="none" />
<path d="M161.1,592.92 L174,592.92 C186.75,592.92 186.75,597.8 199.5,597.8" stroke="#141414" stroke-width="1.1" fill="none" />
<path d="M160.27,597.35 L174,597.35 C186.75,597.35 186.75,602.3 199.5,602.3" stroke="#141414" stroke-width="1.1" fill="none" />
<path d="M159.43,601.78 L174,601.78 C186.75,601.78 186.75,602.3 199.5,602.3" stroke="#141414" stroke-width="1.1" fill="none" />
<path d="M158.6,606.21 L174,606.21 C186.75,606.21 186.75,607 199.5,607" stroke="#141414" stroke-width="1.1" fill="none" />
<path d="M157.77,610.64 L174,610.64 C186.75,610.64 186.75,607 199.5,607" stroke="#141414" stroke-width="1.1" fill="none" />
<path d="M156.94,615.07 L174,615.07 C186.75,615.07 186.75,611.5 199.5,611.5" stroke="#141414" stroke-width="1.1" fill="none" />
<path d="M156.11,619.5 L174,619.5 C186.75,619.5 186.75,611.5 199.5,611.5" stroke="#141414" stroke-width="1.1" fill="none" />
<path d="M155.27,623.93 L174,623.93 C186.75,623.93 186.75,616.1 199.5,616.1" stroke="#141414" stroke-width="1.1" fill="none" />
<path d="M154.44,628.36 L174,628.36 C186.75,628.36 186.75,616.1 199.5,616.1" stroke="#141414" stroke-width="1.1" fill="none" />
<path d="M153.61,632.79 L174,632.79 C186.75,632.79 186.75,620.7 199.5,620.7" stroke="#141414" stroke-width="1.1" fill="none" />
<path d="M152.78,637.22 L174,637.22 C186.75,637.22 186.75,620.7 199.5,620.7" stroke="#141414" stroke-width="1.1" fill="none" />
<path d="M151.95,641.65 L174,641.65 C186.75,641.65 186.75,625.2 199.5,625.2" stroke="#141414" stroke-width="1.1" fill="none" />
<line x1="199" y1="588.8" x2="452.5" y2="588.8" stroke="#141414" stroke-width="1.1" />
<line x1="199" y1="593.3" x2="452.5" y2="593.3" stroke="#141414" stroke-width="1.1" />
<line x1="199" y1="597.8" x2="452.5" y2="597.8" stroke="#141414" stroke-width="1.1" />
<line x1="199" y1="602.3" x2="452.5" y2="602.3" stroke="#141414" stroke-width="1.1" />
<line x1="199" y1="607" x2="452.5" y2="607" stroke="#141414" stroke-width="1.1" />
<line x1="199" y1="611.5" x2="452.5" y2="611.5" stroke="#141414" stroke-width="1.1" />
<line x1="199" y1="616.1" x2="452.5" y2="616.1" stroke="#141414" stroke-width="1.1" />
<line x1="199" y1="620.7" x2="452.5" y2="620.7" stroke="#141414" stroke-width="1.1" />
<line x1="199" y1="625.2" x2="452.5" y2="625.2" stroke="#141414" stroke-width="1.1" />
<path d="M451.5,588.8 C464.75,588.8 464.75,576 478,576 L497.98,576" stroke="#141414" stroke-width="1.1" fill="none" />
<path d="M451.5,593.3 C464.75,593.3 464.75,580.4 478,580.4 L497.18,580.4" stroke="#141414" stroke-width="1.1" fill="none" />
<path d="M451.5,593.3 C464.75,593.3 464.75,584.8 478,584.8 L496.38,584.8" stroke="#141414" stroke-width="1.1" fill="none" />
<path d="M451.5,597.8 C464.75,597.8 464.75,589.2 478,589.2 L495.57,589.2" stroke="#141414" stroke-width="1.1" fill="none" />
<path d="M451.5,597.8 C464.75,597.8 464.75,593.6 478,593.6 L494.77,593.6" stroke="#141414" stroke-width="1.1" fill="none" />
<path d="M451.5,602.3 C464.75,602.3 464.75,598 478,598 L493.97,598" stroke="#141414" stroke-width="1.1" fill="none" />
<path d="M451.5,602.3 C464.75,602.3 464.75,602.4 478,602.4 L493.17,602.4" stroke="#141414" stroke-width="1.1" fill="none" />
<path d="M451.5,607 C464.75,607 464.75,606.8 478,606.8 L492.37,606.8" stroke="#141414" stroke-width="1.1" fill="none" />
<path d="M451.5,607 C464.75,607 464.75,611.2 478,611.2 L491.56,611.2" stroke="#141414" stroke-width="1.1" fill="none" />
<path d="M451.5,611.5 C464.75,611.5 464.75,615.6 478,615.6 L490.76,615.6" stroke="#141414" stroke-width="1.1" fill="none" />
<path d="M451.5,611.5 C464.75,611.5 464.75,620 478,620 L489.96,620" stroke="#141414" stroke-width="1.1" fill="none" />
<path d="M451.5,616.1 C464.75,616.1 464.75,624.4 478,624.4 L489.16,624.4" stroke="#141414" stroke-width="1.1" fill="none" />
<path d="M451.5,616.1 C464.75,616.1 464.75,628.8 478,628.8 L488.35,628.8" stroke="#141414" stroke-width="1.1" fill="none" />
<path d="M451.5,620.7 C464.75,620.7 464.75,633.2 478,633.2 L487.55,633.2" stroke="#141414" stroke-width="1.1" fill="none" />
<path d="M451.5,620.7 C464.75,620.7 464.75,637.6 478,637.6 L486.75,637.6" stroke="#141414" stroke-width="1.1" fill="none" />
<path d="M451.5,625.2 C464.75,625.2 464.75,642 478,642 L485.95,642" stroke="#141414" stroke-width="1.1" fill="none" />
<polygon points="153.1,573.2 140.2,641.9 153.9,641.9 166.8,573.2" stroke="none" stroke-width="1.1" fill="#fff"/>
<line x1="153.1" y1="573.2" x2="140.2" y2="641.9" stroke="#141414" stroke-width="1.1" />
<line x1="166.8" y1="573.2" x2="153.9" y2="641.9" stroke="#141414" stroke-width="1.1" />
<polygon points="345.7,580.2 313.1,636.5 339.1,632.3 371.7,576" stroke="none" stroke-width="1.1" fill="#fff"/>
<line x1="345.7" y1="580.2" x2="313.1" y2="636.5" stroke="#141414" stroke-width="1.1" />
<line x1="371.7" y1="576" x2="339.1" y2="632.3" stroke="#141414" stroke-width="1.1" />
<line x1="500" y1="582.5" x2="534.5" y2="582.5" stroke="#141414" stroke-width="1.1" />
<line x1="500" y1="587.8" x2="534.5" y2="587.8" stroke="#141414" stroke-width="1.1" />
<line x1="500" y1="593.4" x2="534.5" y2="593.4" stroke="#141414" stroke-width="1.1" />
<line x1="500" y1="598.5" x2="534.5" y2="598.5" stroke="#141414" stroke-width="1.1" />
<line x1="500" y1="607.5" x2="534.5" y2="607.5" stroke="#141414" stroke-width="1.1" />
<line x1="500" y1="612.6" x2="534.5" y2="612.6" stroke="#141414" stroke-width="1.1" />
<line x1="500" y1="617.7" x2="534.5" y2="617.7" stroke="#141414" stroke-width="1.1" />
<line x1="500" y1="623.1" x2="534.5" y2="623.1" stroke="#141414" stroke-width="1.1" />
<line x1="509.5" y1="593.4" x2="533.3" y2="588" stroke="#141414" stroke-width="1.1" />
<line x1="505.9" y1="604.8" x2="533.3" y2="598.5" stroke="#141414" stroke-width="1.1" />
<line x1="510.6" y1="617.7" x2="533.3" y2="612.6" stroke="#141414" stroke-width="1.1" />
<line x1="501.3" y1="630.5" x2="533.3" y2="623.1" stroke="#141414" stroke-width="1.1" />
<polygon points="496.4,573.7 483,647.2 497.6,647.2 512,573.7" stroke="none" stroke-width="1.1" fill="#fff"/>
<line x1="496.4" y1="573.7" x2="483" y2="647.2" stroke="#141414" stroke-width="1.1" />
<line x1="512" y1="573.7" x2="497.6" y2="647.2" stroke="#141414" stroke-width="1.1" />
<rect x="95.5" y="575.3" width="29" height="24.1" stroke="#141414" stroke-width="1.1" fill="#fff" />
<rect x="73.2" y="578.3" width="22.3" height="9" stroke="#141414" stroke-width="1.1" fill="#fff" />
<rect x="73.2" y="588.6" width="7.3" height="9.1" stroke="#141414" stroke-width="1.1" fill="#fff" />
<rect x="80.5" y="585.2" width="39.1" height="14.2" stroke="#141414" stroke-width="1.1" fill="#fff" />
<line x1="83.5" y1="585.2" x2="83.5" y2="599.4" stroke="#141414" stroke-width="1.1" />
<line x1="115.7" y1="585.2" x2="115.7" y2="599.4" stroke="#141414" stroke-width="1.1" />
<rect x="121.3" y="575.8" width="3.2" height="4.7" stroke="#141414" stroke-width="0.8" fill="#999" />
<rect x="95.5" y="614.4" width="29" height="23.2" stroke="#141414" stroke-width="1.1" fill="#fff" />
<rect x="73.2" y="626" width="22.3" height="9" stroke="#141414" stroke-width="1.1" fill="#fff" />
<rect x="73.2" y="615.7" width="7.3" height="8.6" stroke="#141414" stroke-width="1.1" fill="#fff" />
<rect x="80.5" y="614.4" width="39.1" height="14.2" stroke="#141414" stroke-width="1.1" fill="#fff" />
<line x1="83.5" y1="614.4" x2="83.5" y2="628.6" stroke="#141414" stroke-width="1.1" />
<line x1="115.7" y1="614.4" x2="115.7" y2="628.6" stroke="#141414" stroke-width="1.1" />
<rect x="121.3" y="632.5" width="3.2" height="5.1" stroke="#141414" stroke-width="0.8" fill="#999" />
<rect x="534.1" y="580.9" width="27.5" height="46.5" stroke="#141414" stroke-width="1.1" fill="#fff" />
<rect x="534.1" y="580.9" width="1.5" height="9.4" stroke="#141414" stroke-width="0.8" fill="#888" />
<rect x="534.1" y="618" width="1.5" height="9.4" stroke="#141414" stroke-width="0.8" fill="#888" />
<rect x="561.6" y="583.9" width="22.9" height="8.6" stroke="#141414" stroke-width="1.1" fill="#fff" />
<rect x="561.6" y="594.6" width="22.9" height="8.8" stroke="#141414" stroke-width="1.1" fill="#fff" />
<rect x="561.6" y="604.8" width="22.9" height="8.6" stroke="#141414" stroke-width="1.1" fill="#fff" />
<rect x="561.6" y="615.7" width="22.9" height="8.4" stroke="#141414" stroke-width="1.1" fill="#fff" />
<rect x="538.8" y="593.3" width="22.6" height="21.2" stroke="#141414" stroke-width="1.1" fill="#fff" />
<line x1="538.8" y1="597.3" x2="561.4" y2="597.3" stroke="#141414" stroke-width="1.1" />
<line x1="538.8" y1="610.6" x2="561.4" y2="610.6" stroke="#141414" stroke-width="1.1" />
<path d="M539.9,600.1 L557.5,600.1 A3.7,3.7 0 0 1 557.5,607.5 L539.9,607.5" stroke="#141414" stroke-width="1.1" fill="#fff" />
<path d="M561.4,600.1 L573.5,600.1 L573.5,607.5 L561.4,607.5" stroke="#141414" stroke-width="1.1" fill="#fff" />
<rect x="573.5" y="600.1" width="4.3" height="7.4" stroke="#141414" stroke-width="1.1" fill="#fff" />
<rect x="577.8" y="602.4" width="6.2" height="2.8" stroke="#141414" stroke-width="0.8" fill="#999" />
<text x="595.64" y="611.6" font-size="28.02" fill="#0a0a0a" text-anchor="start" font-weight="normal" textLength="28.55" lengthAdjust="spacingAndGlyphs">x2</text>
<rect x="63.1" y="702.2" width="173" height="34.9" stroke="none" stroke-width="1.1" fill="#0d2e94" />
<text x="71.42" y="729.4" font-size="26.9" fill="#fff" text-anchor="start" font-weight="normal" textLength="53.65" lengthAdjust="spacingAndGlyphs">PCIe</text>
<text x="133.02" y="729.4" font-size="26.9" fill="#fff" text-anchor="start" font-weight="normal" textLength="49.45" lengthAdjust="spacingAndGlyphs">6+2</text>
<text x="189.29" y="729.4" font-size="26.9" fill="#fff" text-anchor="start" font-weight="normal" textLength="38.85" lengthAdjust="spacingAndGlyphs">Pin</text>
<line x1="107.6" y1="762.8" x2="107.6" y2="778" stroke="#8a8a8a" stroke-width="1" />
<line x1="107.6" y1="826" x2="107.6" y2="839.6" stroke="#8a8a8a" stroke-width="1" />
<line x1="107.6" y1="874.2" x2="107.6" y2="886.5" stroke="#8a8a8a" stroke-width="1" />
<line x1="494.5" y1="763" x2="494.5" y2="775" stroke="#8a8a8a" stroke-width="1" />
<line x1="107.6" y1="765.2" x2="285.7" y2="765.2" stroke="#8a8a8a" stroke-width="1" />
<line x1="343.2" y1="765.2" x2="494.5" y2="765.2" stroke="#8a8a8a" stroke-width="1" />
<text x="291.85" y="769.45" font-size="15.6" fill="#6a6a6a" text-anchor="start" font-weight="normal" textLength="24.73" lengthAdjust="spacingAndGlyphs">650</text>
<text x="329.28" y="769.45" font-size="15.6" fill="#6a6a6a" text-anchor="start" font-weight="normal" textLength="7.27" lengthAdjust="spacingAndGlyphs">5</text>
<line x1="318.7" y1="762.75" x2="327.4" y2="762.75" stroke="#6a6a6a" stroke-width="1.1" />
<line x1="318.7" y1="767.05" x2="327.4" y2="767.05" stroke="#6a6a6a" stroke-width="1.1" />
<line x1="323.05" y1="758.95" x2="323.05" y2="767.05" stroke="#6a6a6a" stroke-width="1.15" />
<polygon points="107.6,765.2 117.6,763.3 117.6,767.1" stroke="none" stroke-width="1.1" fill="#5a5a5a"/>
<polygon points="494.5,765.2 484.5,763.3 484.5,767.1" stroke="none" stroke-width="1.1" fill="#5a5a5a"/>
<line x1="107.6" y1="835.9" x2="145.6" y2="835.9" stroke="#8a8a8a" stroke-width="1" />
<line x1="107.6" y1="877.7" x2="145.6" y2="877.7" stroke="#8a8a8a" stroke-width="1" />
<line x1="145.6" y1="835.9" x2="145.6" y2="877.7" stroke="#8a8a8a" stroke-width="1" />
<polygon points="107.6,835.9 114.6,834.6 114.6,837.2" stroke="none" stroke-width="1.1" fill="#5a5a5a"/>
<polygon points="107.6,877.7 114.6,876.4 114.6,879" stroke="none" stroke-width="1.1" fill="#5a5a5a"/>
<text x="93.8" y="862.75" font-size="15.6" fill="#6a6a6a" text-anchor="start" font-weight="normal" textLength="21.81" lengthAdjust="spacingAndGlyphs">150</text>
<text x="128.38" y="862.75" font-size="15.6" fill="#6a6a6a" text-anchor="start" font-weight="normal" textLength="7.27" lengthAdjust="spacingAndGlyphs">5</text>
<line x1="117.8" y1="856.05" x2="126.5" y2="856.05" stroke="#6a6a6a" stroke-width="1.1" />
<line x1="117.8" y1="860.35" x2="126.5" y2="860.35" stroke="#6a6a6a" stroke-width="1.1" />
<line x1="122.15" y1="852.25" x2="122.15" y2="860.35" stroke="#6a6a6a" stroke-width="1.15" />
<path d="M140.13,774 L150,774 C161.5,774 161.5,785.2 173,785.2" stroke="#141414" stroke-width="1.1" fill="none" />
<path d="M139.38,777.87 L150,777.87 C161.5,777.87 161.5,789.1 173,789.1" stroke="#141414" stroke-width="1.1" fill="none" />
<path d="M138.63,781.74 L150,781.74 C161.5,781.74 161.5,789.1 173,789.1" stroke="#141414" stroke-width="1.1" fill="none" />
<path d="M137.88,785.61 L150,785.61 C161.5,785.61 161.5,793 173,793" stroke="#141414" stroke-width="1.1" fill="none" />
<path d="M137.13,789.48 L150,789.48 C161.5,789.48 161.5,793 173,793" stroke="#141414" stroke-width="1.1" fill="none" />
<path d="M136.38,793.35 L150,793.35 C161.5,793.35 161.5,797.2 173,797.2" stroke="#141414" stroke-width="1.1" fill="none" />
<path d="M135.64,797.22 L150,797.22 C161.5,797.22 161.5,797.2 173,797.2" stroke="#141414" stroke-width="1.1" fill="none" />
<path d="M134.89,801.09 L150,801.09 C161.5,801.09 161.5,801.3 173,801.3" stroke="#141414" stroke-width="1.1" fill="none" />
<path d="M134.14,804.96 L150,804.96 C161.5,804.96 161.5,801.3 173,801.3" stroke="#141414" stroke-width="1.1" fill="none" />
<path d="M133.39,808.83 L150,808.83 C161.5,808.83 161.5,805.5 173,805.5" stroke="#141414" stroke-width="1.1" fill="none" />
<path d="M132.64,812.7 L150,812.7 C161.5,812.7 161.5,805.5 173,805.5" stroke="#141414" stroke-width="1.1" fill="none" />
<path d="M131.89,816.57 L150,816.57 C161.5,816.57 161.5,809.4 173,809.4" stroke="#141414" stroke-width="1.1" fill="none" />
<path d="M131.14,820.44 L150,820.44 C161.5,820.44 161.5,809.4 173,809.4" stroke="#141414" stroke-width="1.1" fill="none" />
<path d="M130.4,824.31 L150,824.31 C161.5,824.31 161.5,813.3 173,813.3" stroke="#141414" stroke-width="1.1" fill="none" />
<path d="M129.65,828.18 L150,828.18 C161.5,828.18 161.5,813.3 173,813.3" stroke="#141414" stroke-width="1.1" fill="none" />
<path d="M128.9,832.05 L150,832.05 C161.5,832.05 161.5,817.5 173,817.5" stroke="#141414" stroke-width="1.1" fill="none" />
<line x1="172.8" y1="785.2" x2="420.5" y2="785.2" stroke="#141414" stroke-width="1.1" />
<line x1="172.8" y1="789.1" x2="420.5" y2="789.1" stroke="#141414" stroke-width="1.1" />
<line x1="172.8" y1="793" x2="420.5" y2="793" stroke="#141414" stroke-width="1.1" />
<line x1="172.8" y1="797.2" x2="420.5" y2="797.2" stroke="#141414" stroke-width="1.1" />
<line x1="172.8" y1="801.3" x2="420.5" y2="801.3" stroke="#141414" stroke-width="1.1" />
<line x1="172.8" y1="805.5" x2="420.5" y2="805.5" stroke="#141414" stroke-width="1.1" />
<line x1="172.8" y1="809.4" x2="420.5" y2="809.4" stroke="#141414" stroke-width="1.1" />
<line x1="172.8" y1="813.3" x2="420.5" y2="813.3" stroke="#141414" stroke-width="1.1" />
<line x1="172.8" y1="817.5" x2="420.5" y2="817.5" stroke="#141414" stroke-width="1.1" />
<path d="M178.6,817.5 L178.6,891.4 Q178.6,893 177,893 L172.8,893" stroke="#141414" stroke-width="1.1" fill="none" />
<path d="M182.2,817.5 L182.2,895.3 Q182.2,896.9 180.6,896.9 L172.8,896.9" stroke="#141414" stroke-width="1.1" fill="none" />
<path d="M185.6,817.5 L185.6,899.2 Q185.6,900.8 184,900.8 L172.8,900.8" stroke="#141414" stroke-width="1.1" fill="none" />
<path d="M189.1,817.5 L189.1,903.9 Q189.1,905.5 187.5,905.5 L172.8,905.5" stroke="#141414" stroke-width="1.1" fill="none" />
<path d="M192.7,817.5 L192.7,907.8 Q192.7,909.4 191.1,909.4 L172.8,909.4" stroke="#141414" stroke-width="1.1" fill="none" />
<path d="M196.3,817.5 L196.3,911.7 Q196.3,913.3 194.7,913.3 L172.8,913.3" stroke="#141414" stroke-width="1.1" fill="none" />
<path d="M199.7,817.5 L199.7,916.4 Q199.7,918 198.1,918 L172.8,918" stroke="#141414" stroke-width="1.1" fill="none" />
<path d="M203.1,817.5 L203.1,920.3 Q203.1,921.9 201.5,921.9 L172.8,921.9" stroke="#141414" stroke-width="1.1" fill="none" />
<path d="M206.4,817.5 L206.4,924.2 Q206.4,925.8 204.8,925.8 L172.8,925.8" stroke="#141414" stroke-width="1.1" fill="none" />
<path d="M140.16,882 L150,882 C161.5,882 161.5,893 173,893" stroke="#141414" stroke-width="1.1" fill="none" />
<path d="M139.39,885.8 L150,885.8 C161.5,885.8 161.5,896.9 173,896.9" stroke="#141414" stroke-width="1.1" fill="none" />
<path d="M138.62,889.6 L150,889.6 C161.5,889.6 161.5,896.9 173,896.9" stroke="#141414" stroke-width="1.1" fill="none" />
<path d="M137.86,893.4 L150,893.4 C161.5,893.4 161.5,900.8 173,900.8" stroke="#141414" stroke-width="1.1" fill="none" />
<path d="M137.09,897.2 L150,897.2 C161.5,897.2 161.5,900.8 173,900.8" stroke="#141414" stroke-width="1.1" fill="none" />
<path d="M136.32,901 L150,901 C161.5,901 161.5,905.5 173,905.5" stroke="#141414" stroke-width="1.1" fill="none" />
<path d="M135.55,904.8 L150,904.8 C161.5,904.8 161.5,905.5 173,905.5" stroke="#141414" stroke-width="1.1" fill="none" />
<path d="M134.79,908.6 L150,908.6 C161.5,908.6 161.5,909.4 173,909.4" stroke="#141414" stroke-width="1.1" fill="none" />
<path d="M134.02,912.4 L150,912.4 C161.5,912.4 161.5,909.4 173,909.4" stroke="#141414" stroke-width="1.1" fill="none" />
<path d="M133.25,916.2 L150,916.2 C161.5,916.2 161.5,913.3 173,913.3" stroke="#141414" stroke-width="1.1" fill="none" />
<path d="M132.48,920 L150,920 C161.5,920 161.5,913.3 173,913.3" stroke="#141414" stroke-width="1.1" fill="none" />
<path d="M131.72,923.8 L150,923.8 C161.5,923.8 161.5,918 173,918" stroke="#141414" stroke-width="1.1" fill="none" />
<path d="M130.95,927.6 L150,927.6 C161.5,927.6 161.5,918 173,918" stroke="#141414" stroke-width="1.1" fill="none" />
<path d="M130.18,931.4 L150,931.4 C161.5,931.4 161.5,921.9 173,921.9" stroke="#141414" stroke-width="1.1" fill="none" />
<path d="M129.41,935.2 L150,935.2 C161.5,935.2 161.5,921.9 173,921.9" stroke="#141414" stroke-width="1.1" fill="none" />
<path d="M128.65,939 L150,939 C161.5,939 161.5,925.8 173,925.8" stroke="#141414" stroke-width="1.1" fill="none" />
<path d="M420,785.2 C432.5,785.2 432.5,774 445,774 L462.17,774" stroke="#141414" stroke-width="1.1" fill="none" />
<path d="M420,789.1 C432.5,789.1 432.5,778 445,778 L461.36,778" stroke="#141414" stroke-width="1.1" fill="none" />
<path d="M420,789.1 C432.5,789.1 432.5,782 445,782 L460.55,782" stroke="#141414" stroke-width="1.1" fill="none" />
<path d="M420,793 C432.5,793 432.5,786 445,786 L459.74,786" stroke="#141414" stroke-width="1.1" fill="none" />
<path d="M420,793 C432.5,793 432.5,790 445,790 L458.93,790" stroke="#141414" stroke-width="1.1" fill="none" />
<path d="M420,797.2 C432.5,797.2 432.5,794 445,794 L458.12,794" stroke="#141414" stroke-width="1.1" fill="none" />
<path d="M420,797.2 C432.5,797.2 432.5,798 445,798 L457.31,798" stroke="#141414" stroke-width="1.1" fill="none" />
<path d="M420,801.3 C432.5,801.3 432.5,802 445,802 L456.5,802" stroke="#141414" stroke-width="1.1" fill="none" />
<path d="M420,801.3 C432.5,801.3 432.5,806 445,806 L455.69,806" stroke="#141414" stroke-width="1.1" fill="none" />
<path d="M420,805.5 C432.5,805.5 432.5,810 445,810 L454.88,810" stroke="#141414" stroke-width="1.1" fill="none" />
<path d="M420,805.5 C432.5,805.5 432.5,814 445,814 L454.06,814" stroke="#141414" stroke-width="1.1" fill="none" />
<path d="M420,809.4 C432.5,809.4 432.5,818 445,818 L453.25,818" stroke="#141414" stroke-width="1.1" fill="none" />
<path d="M420,809.4 C432.5,809.4 432.5,822 445,822 L452.44,822" stroke="#141414" stroke-width="1.1" fill="none" />
<path d="M420,813.3 C432.5,813.3 432.5,826 445,826 L451.63,826" stroke="#141414" stroke-width="1.1" fill="none" />
<path d="M420,813.3 C432.5,813.3 432.5,830 445,830 L450.82,830" stroke="#141414" stroke-width="1.1" fill="none" />
<path d="M420,817.5 C432.5,817.5 432.5,834 445,834 L450.01,834" stroke="#141414" stroke-width="1.1" fill="none" />
<polygon points="287.5,778.1 259.1,827.7 286.4,823.4 315,774.2" stroke="none" stroke-width="1.1" fill="#fff"/>
<line x1="287.5" y1="778.1" x2="259.1" y2="827.7" stroke="#141414" stroke-width="1.1" />
<line x1="315" y1="774.2" x2="286.4" y2="823.4" stroke="#141414" stroke-width="1.1" />
<line x1="465" y1="779.52" x2="493.67" y2="779.52" stroke="#141414" stroke-width="1.1" />
<line x1="465" y1="784.24" x2="493.67" y2="784.24" stroke="#141414" stroke-width="1.1" />
<line x1="465" y1="789.23" x2="493.67" y2="789.23" stroke="#141414" stroke-width="1.1" />
<line x1="465" y1="793.77" x2="493.67" y2="793.77" stroke="#141414" stroke-width="1.1" />
<line x1="465" y1="801.78" x2="493.67" y2="801.78" stroke="#141414" stroke-width="1.1" />
<line x1="465" y1="806.32" x2="493.67" y2="806.32" stroke="#141414" stroke-width="1.1" />
<line x1="465" y1="810.86" x2="493.67" y2="810.86" stroke="#141414" stroke-width="1.1" />
<line x1="465" y1="815.67" x2="493.67" y2="815.67" stroke="#141414" stroke-width="1.1" />
<line x1="465" y1="789.23" x2="492.67" y2="784.42" stroke="#141414" stroke-width="1.1" />
<line x1="465" y1="799.38" x2="492.67" y2="793.77" stroke="#141414" stroke-width="1.1" />
<line x1="465" y1="810.86" x2="492.67" y2="806.32" stroke="#141414" stroke-width="1.1" />
<line x1="465" y1="822.26" x2="492.67" y2="815.67" stroke="#141414" stroke-width="1.1" />
<polygon points="460.6,771.9 447.3,837.5 460.9,837.5 473.4,771.9" stroke="none" stroke-width="1.1" fill="#fff"/>
<line x1="460.6" y1="771.9" x2="447.3" y2="837.5" stroke="#141414" stroke-width="1.1" />
<line x1="473.4" y1="771.9" x2="460.9" y2="837.5" stroke="#141414" stroke-width="1.1" />
<rect x="493.4" y="778.1" width="25" height="41.4" stroke="#141414" stroke-width="1.1" fill="#fff" />
<rect x="493.4" y="778.1" width="1.36" height="8.37" stroke="#141414" stroke-width="0.8" fill="#888" />
<rect x="493.4" y="811.13" width="1.36" height="8.37" stroke="#141414" stroke-width="0.8" fill="#888" />
<rect x="518.4" y="780.77" width="20.82" height="7.66" stroke="#141414" stroke-width="1.1" fill="#fff" />
<rect x="518.4" y="790.3" width="20.82" height="7.83" stroke="#141414" stroke-width="1.1" fill="#fff" />
<rect x="518.4" y="799.38" width="20.82" height="7.66" stroke="#141414" stroke-width="1.1" fill="#fff" />
<rect x="518.4" y="809.08" width="20.82" height="7.48" stroke="#141414" stroke-width="1.1" fill="#fff" />
<rect x="497.67" y="789.14" width="20.55" height="18.87" stroke="#141414" stroke-width="1.1" fill="#fff" />
<line x1="497.67" y1="792.7" x2="518.22" y2="792.7" stroke="#141414" stroke-width="1.1" />
<line x1="497.67" y1="804.54" x2="518.22" y2="804.54" stroke="#141414" stroke-width="1.1" />
<path d="M498.67,795.19 L511.38,795.19 A3.29,3.29 0 0 1 511.38,801.78 L498.67,801.78" stroke="#141414" stroke-width="1.1" fill="#fff" />
<path d="M518.22,795.19 L529.22,795.19 L529.22,801.78 L518.22,801.78" stroke="#141414" stroke-width="1.1" fill="#fff" />
<rect x="529.22" y="795.19" width="3.91" height="6.59" stroke="#141414" stroke-width="1.1" fill="#fff" />
<rect x="533.13" y="797.24" width="5.64" height="2.49" stroke="#141414" stroke-width="0.8" fill="#999" />
<text x="555.72" y="806.6" font-size="28.48" fill="#0a0a0a" text-anchor="start" font-weight="normal" textLength="28.66" lengthAdjust="spacingAndGlyphs">x2</text>
<line x1="106.7" y1="783.4" x2="131" y2="783.4" stroke="#141414" stroke-width="1.1" />
<line x1="106.7" y1="785.8" x2="131" y2="785.8" stroke="#141414" stroke-width="1.1" />
<line x1="106.7" y1="788.1" x2="131" y2="788.1" stroke="#141414" stroke-width="1.1" />
<line x1="106.7" y1="793.3" x2="131" y2="793.3" stroke="#141414" stroke-width="1.1" />
<line x1="106.7" y1="795.6" x2="131" y2="795.6" stroke="#141414" stroke-width="1.1" />
<line x1="106.7" y1="798.4" x2="131" y2="798.4" stroke="#141414" stroke-width="1.1" />
<line x1="106.7" y1="800.3" x2="131" y2="800.3" stroke="#141414" stroke-width="1.1" />
<line x1="106.7" y1="803.1" x2="131" y2="803.1" stroke="#141414" stroke-width="1.1" />
<line x1="106.7" y1="815.3" x2="131" y2="815.3" stroke="#141414" stroke-width="1.1" />
<line x1="106.7" y1="817.7" x2="131" y2="817.7" stroke="#141414" stroke-width="1.1" />
<line x1="106.7" y1="786" x2="130" y2="788.5" stroke="#141414" stroke-width="1.1" />
<line x1="106.7" y1="797" x2="128" y2="800.5" stroke="#141414" stroke-width="1.1" />
<line x1="106.7" y1="803" x2="127" y2="806" stroke="#141414" stroke-width="1.1" />
<line x1="106.7" y1="815.5" x2="124" y2="819" stroke="#141414" stroke-width="1.1" />
<polygon points="132.5,773.1 120.8,833.6 130.6,833.6 142.3,773.1" stroke="none" stroke-width="1.1" fill="#fff"/>
<line x1="132.5" y1="773.1" x2="120.8" y2="833.6" stroke="#141414" stroke-width="1.1" />
<line x1="142.3" y1="773.1" x2="130.6" y2="833.6" stroke="#141414" stroke-width="1.1" />
<rect x="70.8" y="783" width="16.5" height="6" stroke="#141414" stroke-width="1.1" fill="#fff" />
<rect x="70.8" y="790.7" width="16.5" height="6" stroke="#141414" stroke-width="1.1" fill="#fff" />
<rect x="70.8" y="798.4" width="16.5" height="6" stroke="#141414" stroke-width="1.1" fill="#fff" />
<rect x="87.3" y="781.4" width="19.4" height="24.3" stroke="#141414" stroke-width="1.1" fill="#fff" />
<rect x="104.6" y="781.4" width="2.1" height="6.6" stroke="#141414" stroke-width="0.8" fill="#999" />
<rect x="87.5" y="792.3" width="15.9" height="8.9" stroke="#141414" stroke-width="1.1" fill="#fff" />
<rect x="75.3" y="794.2" width="27.7" height="4.7" stroke="#141414" stroke-width="1.1" fill="#fff" />
<rect x="75.3" y="794.2" width="1.7" height="4.7" stroke="#141414" stroke-width="0.6" fill="#777" />
<rect x="70.8" y="813" width="16.5" height="6" stroke="#141414" stroke-width="1.1" fill="#fff" />
<rect x="87.3" y="813" width="19.4" height="9.3" stroke="#141414" stroke-width="1.1" fill="#fff" />
<path d="M104.5,813 L104.5,811 L106,811 L106.7,813" stroke="#141414" stroke-width="1" fill="none" />
<line x1="106.7" y1="891.7" x2="131" y2="891.7" stroke="#141414" stroke-width="1.1" />
<line x1="106.7" y1="894.1" x2="131" y2="894.1" stroke="#141414" stroke-width="1.1" />
<line x1="106.7" y1="896.4" x2="131" y2="896.4" stroke="#141414" stroke-width="1.1" />
<line x1="106.7" y1="901.6" x2="131" y2="901.6" stroke="#141414" stroke-width="1.1" />
<line x1="106.7" y1="903.9" x2="131" y2="903.9" stroke="#141414" stroke-width="1.1" />
<line x1="106.7" y1="906.7" x2="131" y2="906.7" stroke="#141414" stroke-width="1.1" />
<line x1="106.7" y1="908.6" x2="131" y2="908.6" stroke="#141414" stroke-width="1.1" />
<line x1="106.7" y1="911.4" x2="131" y2="911.4" stroke="#141414" stroke-width="1.1" />
<line x1="106.7" y1="923.6" x2="131" y2="923.6" stroke="#141414" stroke-width="1.1" />
<line x1="106.7" y1="926" x2="131" y2="926" stroke="#141414" stroke-width="1.1" />
<line x1="106.7" y1="894.3" x2="130" y2="896.8" stroke="#141414" stroke-width="1.1" />
<line x1="106.7" y1="905.3" x2="128" y2="908.8" stroke="#141414" stroke-width="1.1" />
<line x1="106.7" y1="911.3" x2="127" y2="914.3" stroke="#141414" stroke-width="1.1" />
<line x1="106.7" y1="923.8" x2="124" y2="927.3" stroke="#141414" stroke-width="1.1" />
<polygon points="132.5,881.4 120.8,941.9 130.6,941.9 142.3,881.4" stroke="none" stroke-width="1.1" fill="#fff"/>
<line x1="132.5" y1="881.4" x2="120.8" y2="941.9" stroke="#141414" stroke-width="1.1" />
<line x1="142.3" y1="881.4" x2="130.6" y2="941.9" stroke="#141414" stroke-width="1.1" />
<rect x="70.8" y="891.3" width="16.5" height="6" stroke="#141414" stroke-width="1.1" fill="#fff" />
<rect x="70.8" y="899" width="16.5" height="6" stroke="#141414" stroke-width="1.1" fill="#fff" />
<rect x="70.8" y="906.7" width="16.5" height="6" stroke="#141414" stroke-width="1.1" fill="#fff" />
<rect x="87.3" y="889.7" width="19.4" height="24.3" stroke="#141414" stroke-width="1.1" fill="#fff" />
<rect x="104.6" y="889.7" width="2.1" height="6.6" stroke="#141414" stroke-width="0.8" fill="#999" />
<rect x="87.5" y="900.6" width="15.9" height="8.9" stroke="#141414" stroke-width="1.1" fill="#fff" />
<rect x="75.3" y="902.5" width="27.7" height="4.7" stroke="#141414" stroke-width="1.1" fill="#fff" />
<rect x="75.3" y="902.5" width="1.7" height="4.7" stroke="#141414" stroke-width="0.6" fill="#777" />
<rect x="70.8" y="921.3" width="16.5" height="6" stroke="#141414" stroke-width="1.1" fill="#fff" />
<rect x="87.3" y="921.3" width="19.4" height="9.3" stroke="#141414" stroke-width="1.1" fill="#fff" />
<path d="M104.5,921.3 L104.5,919.3 L106,919.3 L106.7,921.3" stroke="#141414" stroke-width="1" fill="none" />
<rect x="63.2" y="989.3" width="178.6" height="34.7" stroke="none" stroke-width="1.1" fill="#0d2e94" />
<text x="71.75" y="1016.6" font-size="26.9" fill="#fff" text-anchor="start" font-weight="normal" textLength="52.91" lengthAdjust="spacingAndGlyphs">PCIe</text>
<text x="131.61" y="1016.6" font-size="26.9" fill="#fff" text-anchor="start" font-weight="normal" textLength="102.3" lengthAdjust="spacingAndGlyphs">12V-2x6</text>
<line x1="107.3" y1="1051" x2="107.3" y2="1068.6" stroke="#8a8a8a" stroke-width="1" />
<line x1="533.1" y1="1051.9" x2="533.1" y2="1068.8" stroke="#8a8a8a" stroke-width="1" />
<line x1="107.3" y1="1057" x2="303.8" y2="1057" stroke="#8a8a8a" stroke-width="1" />
<line x1="360.2" y1="1057" x2="533.1" y2="1057" stroke="#8a8a8a" stroke-width="1" />
<text x="306.56" y="1060.65" font-size="15.6" fill="#6a6a6a" text-anchor="start" font-weight="normal" textLength="24" lengthAdjust="spacingAndGlyphs">700</text>
<text x="342.85" y="1060.65" font-size="15.6" fill="#6a6a6a" text-anchor="start" font-weight="normal" textLength="13.83" lengthAdjust="spacingAndGlyphs">10</text>
<line x1="332.7" y1="1053.95" x2="341.4" y2="1053.95" stroke="#6a6a6a" stroke-width="1.1" />
<line x1="332.7" y1="1058.25" x2="341.4" y2="1058.25" stroke="#6a6a6a" stroke-width="1.1" />
<line x1="337.05" y1="1050.15" x2="337.05" y2="1058.25" stroke="#6a6a6a" stroke-width="1.15" />
<polygon points="107.3,1057 117.3,1055.1 117.3,1058.9" stroke="none" stroke-width="1.1" fill="#5a5a5a"/>
<polygon points="533.1,1057 523.1,1055.1 523.1,1058.9" stroke="none" stroke-width="1.1" fill="#5a5a5a"/>
<rect x="107" y="1078.5" width="32" height="37" stroke="none" stroke-width="1.1" fill="#fff" />
<rect x="107" y="1088.3" width="32" height="4.9" stroke="none" stroke-width="1.1" fill="#8a8a8a" />
<rect x="107" y="1099.3" width="32" height="5" stroke="none" stroke-width="1.1" fill="#8a8a8a" />
<line x1="107" y1="1078.6" x2="139" y2="1078.6" stroke="#141414" stroke-width="1" />
<line x1="107" y1="1081.2" x2="139" y2="1081.2" stroke="#141414" stroke-width="1" />
<line x1="107" y1="1084.5" x2="139" y2="1084.5" stroke="#141414" stroke-width="1" />
<line x1="107" y1="1088.3" x2="139" y2="1088.3" stroke="#141414" stroke-width="1" />
<line x1="107" y1="1093.2" x2="139" y2="1093.2" stroke="#141414" stroke-width="1" />
<line x1="107" y1="1095.2" x2="139" y2="1095.2" stroke="#141414" stroke-width="1" />
<line x1="107" y1="1099.3" x2="139" y2="1099.3" stroke="#141414" stroke-width="1" />
<line x1="107" y1="1104.3" x2="139" y2="1104.3" stroke="#141414" stroke-width="1" />
<line x1="107" y1="1106.5" x2="139" y2="1106.5" stroke="#141414" stroke-width="1" />
<line x1="107" y1="1109.5" x2="139" y2="1109.5" stroke="#141414" stroke-width="1" />
<line x1="107" y1="1112.6" x2="139" y2="1112.6" stroke="#141414" stroke-width="1" />
<line x1="107" y1="1115.4" x2="139" y2="1115.4" stroke="#141414" stroke-width="1" />
<rect x="500" y="1078.5" width="33" height="37" stroke="none" stroke-width="1.1" fill="#fff" />
<rect x="500" y="1088.3" width="33" height="4.9" stroke="none" stroke-width="1.1" fill="#8a8a8a" />
<rect x="500" y="1099.3" width="33" height="5" stroke="none" stroke-width="1.1" fill="#8a8a8a" />
<line x1="500" y1="1078.6" x2="533" y2="1078.6" stroke="#141414" stroke-width="1" />
<line x1="500" y1="1081.2" x2="533" y2="1081.2" stroke="#141414" stroke-width="1" />
<line x1="500" y1="1084.5" x2="533" y2="1084.5" stroke="#141414" stroke-width="1" />
<line x1="500" y1="1088.3" x2="533" y2="1088.3" stroke="#141414" stroke-width="1" />
<line x1="500" y1="1093.2" x2="533" y2="1093.2" stroke="#141414" stroke-width="1" />
<line x1="500" y1="1095.2" x2="533" y2="1095.2" stroke="#141414" stroke-width="1" />
<line x1="500" y1="1099.3" x2="533" y2="1099.3" stroke="#141414" stroke-width="1" />
<line x1="500" y1="1104.3" x2="533" y2="1104.3" stroke="#141414" stroke-width="1" />
<line x1="500" y1="1106.5" x2="533" y2="1106.5" stroke="#141414" stroke-width="1" />
<line x1="500" y1="1109.5" x2="533" y2="1109.5" stroke="#141414" stroke-width="1" />
<line x1="500" y1="1112.6" x2="533" y2="1112.6" stroke="#141414" stroke-width="1" />
<line x1="500" y1="1115.4" x2="533" y2="1115.4" stroke="#141414" stroke-width="1" />
<rect x="138.6" y="1078.1" width="362.7" height="37.7" fill="url(#braid)"/>
<line x1="138.6" y1="1078.3" x2="501.3" y2="1078.3" stroke="#141414" stroke-width="1.3" />
<line x1="138.6" y1="1115.6" x2="501.3" y2="1115.6" stroke="#141414" stroke-width="1.3" />
<rect x="131.4" y="1071.1" width="32" height="48.1" fill="none" stroke="#222" stroke-width="1" stroke-dasharray="1.6,1.2"/>
<rect x="476.3" y="1070.6" width="31.8" height="48.8" fill="none" stroke="#222" stroke-width="1" stroke-dasharray="1.6,1.2"/>
<rect x="144.6" y="1077.5" width="1.8" height="40.2" stroke="#141414" stroke-width="0.9" fill="#fff" />
<rect x="142.5" y="1076.5" width="6" height="2.2" stroke="#141414" stroke-width="0.9" fill="#bbb" />
<rect x="144.5" y="1072.5" width="2" height="4" stroke="#141414" stroke-width="0.9" fill="#fff" />
<rect x="492.9" y="1077.3" width="1.8" height="40.6" stroke="#141414" stroke-width="0.9" fill="#fff" />
<rect x="490.8" y="1076.3" width="6" height="2.2" stroke="#141414" stroke-width="0.9" fill="#bbb" />
<rect x="492.8" y="1072.3" width="2" height="4" stroke="#141414" stroke-width="0.9" fill="#fff" />
<rect x="73" y="1075" width="15.4" height="6.2" stroke="#141414" stroke-width="1" fill="#fff" />
<rect x="73" y="1082.4" width="15.4" height="6.2" stroke="#141414" stroke-width="1" fill="#fff" />
<rect x="73" y="1089.8" width="15.4" height="6.2" stroke="#141414" stroke-width="1" fill="#fff" />
<rect x="73" y="1097.2" width="15.4" height="6.2" stroke="#141414" stroke-width="1" fill="#fff" />
<rect x="73" y="1104.6" width="15.4" height="6.2" stroke="#141414" stroke-width="1" fill="#fff" />
<rect x="73" y="1112" width="15.4" height="5.8" stroke="#141414" stroke-width="1" fill="#fff" />
<rect x="73" y="1080.5" width="15.4" height="1.9" stroke="#141414" stroke-width="0.5" fill="#888" />
<rect x="73" y="1110.2" width="15.4" height="1.8" stroke="#141414" stroke-width="0.5" fill="#888" />
<rect x="88.4" y="1073.6" width="16.1" height="45.4" stroke="#141414" stroke-width="1.1" fill="#fff" />
<path d="M104.5,1073.6 L104.5,1071.5 L106.5,1071.5 L107.3,1073 L107.3,1120 L106.5,1121.5 L104.5,1121.5 L104.5,1119" stroke="#141414" stroke-width="1.1" fill="#fff" />
<rect x="93.5" y="1079.6" width="2.5" height="3" stroke="#141414" stroke-width="0.5" fill="#333" />
<rect x="93.5" y="1110" width="2.5" height="3" stroke="#141414" stroke-width="0.5" fill="#333" />
<rect x="79" y="1084.8" width="30" height="23.9" stroke="#141414" stroke-width="1.1" fill="#fff" />
<rect x="106.5" y="1085.5" width="2.5" height="22.5" stroke="#141414" stroke-width="0.6" fill="#aaa" />
<path d="M83.5,1087.5 L83.5,1106 M83.5,1088.5 L86.5,1088.5 L86.5,1091.5 L83.5,1091.5 M83.5,1094.5 L86.5,1094.5 L86.5,1097.5 L83.5,1097.5 M83.5,1100.5 L86.5,1100.5 L86.5,1103.5 L83.5,1103.5" stroke="#141414" stroke-width="0.8" fill="none" />
<rect x="550.6" y="1089" width="15.7" height="14" stroke="#141414" stroke-width="0.8" fill="#999" />
<rect x="550.6" y="1075.6" width="15.7" height="5.7" stroke="#141414" stroke-width="1.1" fill="#fff" />
<rect x="550.6" y="1082.5" width="15.7" height="5.6" stroke="#141414" stroke-width="1.1" fill="#fff" />
<rect x="550.6" y="1104.4" width="15.7" height="5.6" stroke="#141414" stroke-width="1.1" fill="#fff" />
<rect x="550.6" y="1111.3" width="15.7" height="5.6" stroke="#141414" stroke-width="1.1" fill="#fff" />
<rect x="535.5" y="1073.1" width="15.1" height="46.3" stroke="#141414" stroke-width="1.1" fill="#fff" />
<rect x="532.5" y="1071.9" width="3" height="49.4" stroke="#141414" stroke-width="1.3" fill="#fff" />
<rect x="536.3" y="1091.9" width="28.7" height="9.1" stroke="#141414" stroke-width="1.1" fill="#fff" />
<line x1="538.5" y1="1092" x2="538.5" y2="1101" stroke="#141414" stroke-width="0.8" />
<line x1="540" y1="1092" x2="540" y2="1101" stroke="#141414" stroke-width="0.8" />
<rect x="648.6" y="161.2" width="89.6" height="34.4" stroke="none" stroke-width="1.1" fill="#0d2e94" />
<text x="659.03" y="188.6" font-size="26.9" fill="#fff" text-anchor="start" font-weight="normal" textLength="67.22" lengthAdjust="spacingAndGlyphs">SATA</text>
<line x1="704.6" y1="219" x2="704.6" y2="236" stroke="#8a8a8a" stroke-width="1" />
<line x1="1004.6" y1="220.4" x2="1004.6" y2="234.5" stroke="#8a8a8a" stroke-width="1" />
<line x1="704.6" y1="222.3" x2="826.8" y2="222.3" stroke="#8a8a8a" stroke-width="1" />
<line x1="882.3" y1="222.3" x2="1004.5" y2="222.3" stroke="#8a8a8a" stroke-width="1" />
<text x="832.21" y="225.55" font-size="15.6" fill="#6a6a6a" text-anchor="start" font-weight="normal" textLength="24.67" lengthAdjust="spacingAndGlyphs">500</text>
<text x="869.58" y="225.55" font-size="15.6" fill="#6a6a6a" text-anchor="start" font-weight="normal" textLength="7.27" lengthAdjust="spacingAndGlyphs">5</text>
<line x1="859" y1="218.85" x2="867.7" y2="218.85" stroke="#6a6a6a" stroke-width="1.1" />
<line x1="859" y1="223.15" x2="867.7" y2="223.15" stroke="#6a6a6a" stroke-width="1.1" />
<line x1="863.35" y1="215.05" x2="863.35" y2="223.15" stroke="#6a6a6a" stroke-width="1.15" />
<polygon points="704.6,222.3 714.6,220.4 714.6,224.2" stroke="none" stroke-width="1.1" fill="#5a5a5a"/>
<polygon points="1004.5,222.3 994.5,220.4 994.5,224.2" stroke="none" stroke-width="1.1" fill="#5a5a5a"/>
<line x1="704.6" y1="302.2" x2="742.7" y2="302.2" stroke="#8a8a8a" stroke-width="1" />
<line x1="704.6" y1="331" x2="742.7" y2="331" stroke="#8a8a8a" stroke-width="1" />
<line x1="742.7" y1="302.2" x2="742.7" y2="331" stroke="#8a8a8a" stroke-width="1" />
<polygon points="704.6,302.2 711.6,300.9 711.6,303.5" stroke="none" stroke-width="1.1" fill="#5a5a5a"/>
<polygon points="704.6,331 711.6,329.7 711.6,332.3" stroke="none" stroke-width="1.1" fill="#5a5a5a"/>
<line x1="704.6" y1="295.8" x2="704.6" y2="305.2" stroke="#8a8a8a" stroke-width="1" />
<line x1="704.6" y1="327" x2="704.6" y2="339.5" stroke="#8a8a8a" stroke-width="1" />
<text x="692.99" y="322.45" font-size="15.6" fill="#6a6a6a" text-anchor="start" font-weight="normal" textLength="22.17" lengthAdjust="spacingAndGlyphs">155</text>
<text x="727.88" y="322.45" font-size="15.6" fill="#6a6a6a" text-anchor="start" font-weight="normal" textLength="7.27" lengthAdjust="spacingAndGlyphs">5</text>
<line x1="717.3" y1="315.75" x2="726" y2="315.75" stroke="#6a6a6a" stroke-width="1.1" />
<line x1="717.3" y1="320.05" x2="726" y2="320.05" stroke="#6a6a6a" stroke-width="1.1" />
<line x1="721.65" y1="311.95" x2="721.65" y2="320.05" stroke="#6a6a6a" stroke-width="1.15" />
<line x1="704.6" y1="406.5" x2="742.7" y2="406.5" stroke="#8a8a8a" stroke-width="1" />
<line x1="704.6" y1="435" x2="742.7" y2="435" stroke="#8a8a8a" stroke-width="1" />
<line x1="742.7" y1="406.5" x2="742.7" y2="435" stroke="#8a8a8a" stroke-width="1" />
<polygon points="704.6,406.5 711.6,405.2 711.6,407.8" stroke="none" stroke-width="1.1" fill="#5a5a5a"/>
<polygon points="704.6,435 711.6,433.7 711.6,436.3" stroke="none" stroke-width="1.1" fill="#5a5a5a"/>
<line x1="704.6" y1="399" x2="704.6" y2="409.5" stroke="#8a8a8a" stroke-width="1" />
<line x1="704.6" y1="431" x2="704.6" y2="442.7" stroke="#8a8a8a" stroke-width="1" />
<text x="692.99" y="426.95" font-size="15.6" fill="#6a6a6a" text-anchor="start" font-weight="normal" textLength="22.17" lengthAdjust="spacingAndGlyphs">155</text>
<text x="727.88" y="426.95" font-size="15.6" fill="#6a6a6a" text-anchor="start" font-weight="normal" textLength="7.27" lengthAdjust="spacingAndGlyphs">5</text>
<line x1="717.3" y1="420.25" x2="726" y2="420.25" stroke="#6a6a6a" stroke-width="1.1" />
<line x1="717.3" y1="424.55" x2="726" y2="424.55" stroke="#6a6a6a" stroke-width="1.1" />
<line x1="721.65" y1="416.45" x2="721.65" y2="424.55" stroke="#6a6a6a" stroke-width="1.15" />
<line x1="704.6" y1="511" x2="742.7" y2="511" stroke="#8a8a8a" stroke-width="1" />
<line x1="704.6" y1="539.8" x2="742.7" y2="539.8" stroke="#8a8a8a" stroke-width="1" />
<line x1="742.7" y1="511" x2="742.7" y2="539.8" stroke="#8a8a8a" stroke-width="1" />
<polygon points="704.6,511 711.6,509.7 711.6,512.3" stroke="none" stroke-width="1.1" fill="#5a5a5a"/>
<polygon points="704.6,539.8 711.6,538.5 711.6,541.1" stroke="none" stroke-width="1.1" fill="#5a5a5a"/>
<line x1="704.6" y1="502.2" x2="704.6" y2="514" stroke="#8a8a8a" stroke-width="1" />
<line x1="704.6" y1="535.8" x2="704.6" y2="545.9" stroke="#8a8a8a" stroke-width="1" />
<text x="692.99" y="530.85" font-size="15.6" fill="#6a6a6a" text-anchor="start" font-weight="normal" textLength="22.17" lengthAdjust="spacingAndGlyphs">155</text>
<text x="727.88" y="530.85" font-size="15.6" fill="#6a6a6a" text-anchor="start" font-weight="normal" textLength="7.27" lengthAdjust="spacingAndGlyphs">5</text>
<line x1="717.3" y1="524.15" x2="726" y2="524.15" stroke="#6a6a6a" stroke-width="1.1" />
<line x1="717.3" y1="528.45" x2="726" y2="528.45" stroke="#6a6a6a" stroke-width="1.1" />
<line x1="721.65" y1="520.35" x2="721.65" y2="528.45" stroke="#6a6a6a" stroke-width="1.15" />
<line x1="730" y1="254.4" x2="978" y2="254.4" stroke="#141414" stroke-width="1.1" />
<line x1="730" y1="258.8" x2="978" y2="258.8" stroke="#141414" stroke-width="1.1" />
<line x1="730" y1="263.8" x2="978" y2="263.8" stroke="#141414" stroke-width="1.1" />
<line x1="730" y1="268.8" x2="978" y2="268.8" stroke="#141414" stroke-width="1.1" />
<line x1="730" y1="273.8" x2="978" y2="273.8" stroke="#141414" stroke-width="1.1" />
<line x1="730" y1="278.5" x2="978" y2="278.5" stroke="#141414" stroke-width="1.1" />
<path d="M976,254.4 C986.5,254.4 986.5,245.8 997,245.8 L1004,245.8" stroke="#141414" stroke-width="1.1" fill="none" />
<path d="M976,258.8 C986.5,258.8 986.5,250.6 997,250.6 L1004,250.6" stroke="#141414" stroke-width="1.1" fill="none" />
<path d="M976,258.8 C986.5,258.8 986.5,255.2 997,255.2 L1004,255.2" stroke="#141414" stroke-width="1.1" fill="none" />
<path d="M976,263.8 C986.5,263.8 986.5,259.8 997,259.8 L1004,259.8" stroke="#141414" stroke-width="1.1" fill="none" />
<path d="M976,263.8 C986.5,263.8 986.5,264.4 997,264.4 L1004,264.4" stroke="#141414" stroke-width="1.1" fill="none" />
<path d="M976,268.8 C986.5,268.8 986.5,269 997,269 L1004,269" stroke="#141414" stroke-width="1.1" fill="none" />
<path d="M976,268.8 C986.5,268.8 986.5,273.6 997,273.6 L1004,273.6" stroke="#141414" stroke-width="1.1" fill="none" />
<path d="M976,273.8 C986.5,273.8 986.5,278.2 997,278.2 L1004,278.2" stroke="#141414" stroke-width="1.1" fill="none" />
<path d="M976,273.8 C986.5,273.8 986.5,282.8 997,282.8 L1004,282.8" stroke="#141414" stroke-width="1.1" fill="none" />
<path d="M976,278.5 C986.5,278.5 986.5,287.4 997,287.4 L1004,287.4" stroke="#141414" stroke-width="1.1" fill="none" />
<polygon points="930.8,242.9 913.2,290 928,290 945.5,242.9" stroke="none" stroke-width="1.1" fill="#fff"/>
<line x1="930.8" y1="242.9" x2="913.2" y2="290" stroke="#141414" stroke-width="1.1" />
<line x1="945.5" y1="242.9" x2="928" y2="290" stroke="#141414" stroke-width="1.1" />
<path d="M705.6,244.4 L712,244.4 C721.5,244.4 721.5,254.4 731,254.4" stroke="#141414" stroke-width="1.1" fill="none" />
<path d="M705.6,248.8 L712,248.8 C721.5,248.8 721.5,258.8 731,258.8" stroke="#141414" stroke-width="1.1" fill="none" />
<path d="M705.6,253.8 L712,253.8 C721.5,253.8 721.5,258.8 731,258.8" stroke="#141414" stroke-width="1.1" fill="none" />
<path d="M705.6,258.8 L712,258.8 C721.5,258.8 721.5,263.8 731,263.8" stroke="#141414" stroke-width="1.1" fill="none" />
<path d="M705.6,263.8 L712,263.8 L731,263.8" stroke="#141414" stroke-width="1.1" fill="none" />
<path d="M705.6,268.8 L712,268.8 L731,268.8" stroke="#141414" stroke-width="1.1" fill="none" />
<path d="M705.6,273.8 L712,273.8 C721.5,273.8 721.5,268.8 731,268.8" stroke="#141414" stroke-width="1.1" fill="none" />
<path d="M705.6,278.8 L712,278.8 C721.5,278.8 721.5,273.8 731,273.8" stroke="#141414" stroke-width="1.1" fill="none" />
<path d="M705.6,283.8 L712,283.8 C721.5,283.8 721.5,273.8 731,273.8" stroke="#141414" stroke-width="1.1" fill="none" />
<path d="M705.6,288.1 L712,288.1 C721.5,288.1 721.5,278.5 731,278.5" stroke="#141414" stroke-width="1.1" fill="none" />
<path d="M705.6,347.5 L712,347.5 C721.5,347.5 721.5,357.5 731,357.5" stroke="#141414" stroke-width="1.1" fill="none" />
<path d="M705.6,351.9 L712,351.9 C721.5,351.9 721.5,361.9 731,361.9" stroke="#141414" stroke-width="1.1" fill="none" />
<path d="M705.6,356.9 L712,356.9 C721.5,356.9 721.5,361.9 731,361.9" stroke="#141414" stroke-width="1.1" fill="none" />
<path d="M705.6,361.9 L712,361.9 C721.5,361.9 721.5,366.9 731,366.9" stroke="#141414" stroke-width="1.1" fill="none" />
<path d="M705.6,366.9 L712,366.9 L731,366.9" stroke="#141414" stroke-width="1.1" fill="none" />
<path d="M705.6,371.9 L712,371.9 L731,371.9" stroke="#141414" stroke-width="1.1" fill="none" />
<path d="M705.6,376.9 L712,376.9 C721.5,376.9 721.5,371.9 731,371.9" stroke="#141414" stroke-width="1.1" fill="none" />
<path d="M705.6,381.9 L712,381.9 C721.5,381.9 721.5,376.9 731,376.9" stroke="#141414" stroke-width="1.1" fill="none" />
<path d="M705.6,386.9 L712,386.9 C721.5,386.9 721.5,376.9 731,376.9" stroke="#141414" stroke-width="1.1" fill="none" />
<path d="M705.6,391.2 L712,391.2 C721.5,391.2 721.5,381.6 731,381.6" stroke="#141414" stroke-width="1.1" fill="none" />
<path d="M730,357.5 L764,357.5 Q768,357.5 768,353.5 L768,278.5" stroke="#141414" stroke-width="1.1" fill="none" />
<path d="M730,361.9 L768,361.9 Q772.8,361.9 772.8,357.1 L772.8,278.5" stroke="#141414" stroke-width="1.1" fill="none" />
<path d="M730,366.9 L772,366.9 Q777.6,366.9 777.6,361.3 L777.6,278.5" stroke="#141414" stroke-width="1.1" fill="none" />
<path d="M730,371.9 L776.1,371.9 Q782.5,371.9 782.5,365.5 L782.5,278.5" stroke="#141414" stroke-width="1.1" fill="none" />
<path d="M730,376.9 L780.2,376.9 Q787.4,376.9 787.4,369.7 L787.4,278.5" stroke="#141414" stroke-width="1.1" fill="none" />
<path d="M730,381.6 L784.3,381.6 Q792.3,381.6 792.3,373.6 L792.3,278.5" stroke="#141414" stroke-width="1.1" fill="none" />
<path d="M792.3,281.5 Q792.3,278.5 789.3,278.5" stroke="#141414" stroke-width="1.1" fill="none" />
<path d="M705.6,450.6 L712,450.6 C721.5,450.6 721.5,460.6 731,460.6" stroke="#141414" stroke-width="1.1" fill="none" />
<path d="M705.6,455 L712,455 C721.5,455 721.5,465 731,465" stroke="#141414" stroke-width="1.1" fill="none" />
<path d="M705.6,460 L712,460 C721.5,460 721.5,465 731,465" stroke="#141414" stroke-width="1.1" fill="none" />
<path d="M705.6,465 L712,465 C721.5,465 721.5,470 731,470" stroke="#141414" stroke-width="1.1" fill="none" />
<path d="M705.6,470 L712,470 L731,470" stroke="#141414" stroke-width="1.1" fill="none" />
<path d="M705.6,475 L712,475 L731,475" stroke="#141414" stroke-width="1.1" fill="none" />
<path d="M705.6,480 L712,480 C721.5,480 721.5,475 731,475" stroke="#141414" stroke-width="1.1" fill="none" />
<path d="M705.6,485 L712,485 C721.5,485 721.5,480 731,480" stroke="#141414" stroke-width="1.1" fill="none" />
<path d="M705.6,490 L712,490 C721.5,490 721.5,480 731,480" stroke="#141414" stroke-width="1.1" fill="none" />
<path d="M705.6,494.3 L712,494.3 C721.5,494.3 721.5,484.7 731,484.7" stroke="#141414" stroke-width="1.1" fill="none" />
<path d="M730,460.6 L756.9,460.6 Q760.9,460.6 760.9,456.6 L760.9,381.8" stroke="#141414" stroke-width="1.1" fill="none" />
<path d="M730,465 L760.8,465 Q765.6,465 765.6,460.2 L765.6,381.8" stroke="#141414" stroke-width="1.1" fill="none" />
<path d="M730,470 L765,470 Q770.6,470 770.6,464.4 L770.6,381.8" stroke="#141414" stroke-width="1.1" fill="none" />
<path d="M730,475 L769.1,475 Q775.5,475 775.5,468.6 L775.5,381.8" stroke="#141414" stroke-width="1.1" fill="none" />
<path d="M730,480 L773.3,480 Q780.5,480 780.5,472.8 L780.5,381.8" stroke="#141414" stroke-width="1.1" fill="none" />
<path d="M730,484.7 L777.2,484.7 Q785.2,484.7 785.2,476.7 L785.2,381.8" stroke="#141414" stroke-width="1.1" fill="none" />
<path d="M785.2,384.8 Q785.2,381.8 782.2,381.8" stroke="#141414" stroke-width="1.1" fill="none" />
<path d="M705.6,553.7 L712,553.7 C721.5,553.7 721.5,563.7 731,563.7" stroke="#141414" stroke-width="1.1" fill="none" />
<path d="M705.6,558.1 L712,558.1 C721.5,558.1 721.5,568.1 731,568.1" stroke="#141414" stroke-width="1.1" fill="none" />
<path d="M705.6,563.1 L712,563.1 C721.5,563.1 721.5,568.1 731,568.1" stroke="#141414" stroke-width="1.1" fill="none" />
<path d="M705.6,568.1 L712,568.1 C721.5,568.1 721.5,573.1 731,573.1" stroke="#141414" stroke-width="1.1" fill="none" />
<path d="M705.6,573.1 L712,573.1 L731,573.1" stroke="#141414" stroke-width="1.1" fill="none" />
<path d="M705.6,578.1 L712,578.1 L731,578.1" stroke="#141414" stroke-width="1.1" fill="none" />
<path d="M705.6,583.1 L712,583.1 C721.5,583.1 721.5,578.1 731,578.1" stroke="#141414" stroke-width="1.1" fill="none" />
<path d="M705.6,588.1 L712,588.1 C721.5,588.1 721.5,583.1 731,583.1" stroke="#141414" stroke-width="1.1" fill="none" />
<path d="M705.6,593.1 L712,593.1 C721.5,593.1 721.5,583.1 731,583.1" stroke="#141414" stroke-width="1.1" fill="none" />
<path d="M705.6,597.4 L712,597.4 C721.5,597.4 721.5,587.8 731,587.8" stroke="#141414" stroke-width="1.1" fill="none" />
<path d="M730,563.7 L750.1,563.7 Q754.1,563.7 754.1,559.7 L754.1,485.2" stroke="#141414" stroke-width="1.1" fill="none" />
<path d="M730,568.1 L753.9,568.1 Q758.7,568.1 758.7,563.3 L758.7,485.2" stroke="#141414" stroke-width="1.1" fill="none" />
<path d="M730,573.1 L758,573.1 Q763.6,573.1 763.6,567.5 L763.6,485.2" stroke="#141414" stroke-width="1.1" fill="none" />
<path d="M730,578.1 L762.2,578.1 Q768.6,578.1 768.6,571.7 L768.6,485.2" stroke="#141414" stroke-width="1.1" fill="none" />
<path d="M730,583.1 L766.3,583.1 Q773.5,583.1 773.5,575.9 L773.5,485.2" stroke="#141414" stroke-width="1.1" fill="none" />
<path d="M730,587.8 L770.4,587.8 Q778.4,587.8 778.4,579.8 L778.4,485.2" stroke="#141414" stroke-width="1.1" fill="none" />
<path d="M778.4,488.2 Q778.4,485.2 775.4,485.2" stroke="#141414" stroke-width="1.1" fill="none" />
<path d="M649.4,293.3 L649.4,295.8 Q649.4,296.6 650.4,296.6 L664.4,296.6 L664.4,293.3" stroke="#141414" stroke-width="1.1" fill="#fff" />
<path d="M649.4,293.8 L649.4,237.3 Q649.4,236.3 650.4,236.3 L669.4,236.3 Q671.9,236.3 672.5,238.1 L672.5,293.8 Z" stroke="#141414" stroke-width="1.1" fill="#fff" />
<rect x="672.5" y="238.1" width="33.1" height="55.7" stroke="#141414" stroke-width="1.1" fill="#fff" />
<line x1="674.5" y1="238.1" x2="674.5" y2="293.8" stroke="#141414" stroke-width="1.1" />
<rect x="700.6" y="238.1" width="1.9" height="55.7" stroke="#141414" stroke-width="1" fill="#c8c8c8" />
<path d="M649.4,396.5 L649.4,399 Q649.4,399.8 650.4,399.8 L664.4,399.8 L664.4,396.5" stroke="#141414" stroke-width="1.1" fill="#fff" />
<path d="M649.4,397 L649.4,340.5 Q649.4,339.5 650.4,339.5 L669.4,339.5 Q671.9,339.5 672.5,341.3 L672.5,397 Z" stroke="#141414" stroke-width="1.1" fill="#fff" />
<rect x="672.5" y="341.3" width="33.1" height="55.7" stroke="#141414" stroke-width="1.1" fill="#fff" />
<line x1="674.5" y1="341.3" x2="674.5" y2="397" stroke="#141414" stroke-width="1.1" />
<rect x="700.6" y="341.3" width="1.9" height="55.7" stroke="#141414" stroke-width="1" fill="#c8c8c8" />
<path d="M649.4,499.7 L649.4,502.2 Q649.4,503 650.4,503 L664.4,503 L664.4,499.7" stroke="#141414" stroke-width="1.1" fill="#fff" />
<path d="M649.4,500.2 L649.4,443.7 Q649.4,442.7 650.4,442.7 L669.4,442.7 Q671.9,442.7 672.5,444.5 L672.5,500.2 Z" stroke="#141414" stroke-width="1.1" fill="#fff" />
<rect x="672.5" y="444.5" width="33.1" height="55.7" stroke="#141414" stroke-width="1.1" fill="#fff" />
<line x1="674.5" y1="444.5" x2="674.5" y2="500.2" stroke="#141414" stroke-width="1.1" />
<rect x="700.6" y="444.5" width="1.9" height="55.7" stroke="#141414" stroke-width="1" fill="#c8c8c8" />
<path d="M649.4,602.9 L649.4,605.4 Q649.4,606.2 650.4,606.2 L664.4,606.2 L664.4,602.9" stroke="#141414" stroke-width="1.1" fill="#fff" />
<path d="M649.4,603.4 L649.4,546.9 Q649.4,545.9 650.4,545.9 L669.4,545.9 Q671.9,545.9 672.5,547.7 L672.5,603.4 Z" stroke="#141414" stroke-width="1.1" fill="#fff" />
<rect x="672.5" y="547.7" width="33.1" height="55.7" stroke="#141414" stroke-width="1.1" fill="#fff" />
<line x1="674.5" y1="547.7" x2="674.5" y2="603.4" stroke="#141414" stroke-width="1.1" />
<rect x="700.6" y="547.7" width="1.9" height="55.7" stroke="#141414" stroke-width="1" fill="#c8c8c8" />
<path d="M1004.3,295.2 L1017.4,295.2 L1017.4,292.2 L1021.8,292.2 L1021.8,295.4 L1032.7,295.4 L1033.5,292.5 L1036.5,292.5 Q1040,293.7 1039.8,297.1 Q1039.5,300.8 1036.6,301.2 L1005.3,301.4 L1004.3,300.5 Z" stroke="#141414" stroke-width="1.1" fill="#fff" />
<path d="M1020.7,292.2 L1020.7,297.6 L1009,298.3 L1006.8,301.2" stroke="#141414" stroke-width="1" fill="none" />
<rect x="1028.1" y="250.6" width="20.2" height="2.7" stroke="#141414" stroke-width="0.6" fill="#8a8a8a" />
<rect x="1028.1" y="242.9" width="20.2" height="7.7" stroke="#141414" stroke-width="1.1" fill="#fff" />
<rect x="1028.1" y="253.3" width="20.2" height="7.1" stroke="#141414" stroke-width="1.1" fill="#fff" />
<rect x="1028.1" y="262.4" width="20.2" height="7.9" stroke="#141414" stroke-width="1.1" fill="#fff" />
<rect x="1028.1" y="272.5" width="20.2" height="7.1" stroke="#141414" stroke-width="1.1" fill="#fff" />
<rect x="1028.1" y="281.5" width="20.2" height="7.9" stroke="#141414" stroke-width="1.1" fill="#fff" />
<rect x="1002.7" y="240.5" width="25.4" height="51.7" rx="1.2" stroke="#141414" stroke-width="1.1" fill="#fff"/>
<rect x="1002.7" y="240.8" width="2.8" height="15.7" stroke="#141414" stroke-width="1" fill="#fff" />
<rect x="1002.7" y="275.5" width="2.8" height="16.4" stroke="#141414" stroke-width="1" fill="#fff" />
<rect x="648.6" y="702.1" width="201.5" height="35.3" stroke="none" stroke-width="1.1" fill="#0d2e94" />
<text x="658.93" y="729" font-size="26.9" fill="#fff" text-anchor="start" font-weight="normal" textLength="67.32" lengthAdjust="spacingAndGlyphs">SATA</text>
<text x="734.4" y="729" font-size="26.9" fill="#fff" text-anchor="start" font-weight="normal" textLength="6.6" lengthAdjust="spacingAndGlyphs">/</text>
<text x="751.21" y="729" font-size="26.9" fill="#fff" text-anchor="start" font-weight="normal" textLength="89.23" lengthAdjust="spacingAndGlyphs">MOLEX</text>
<line x1="698.3" y1="765" x2="698.3" y2="778" stroke="#8a8a8a" stroke-width="1" />
<line x1="820.3" y1="765" x2="820.3" y2="777.8" stroke="#8a8a8a" stroke-width="1" />
<line x1="841.3" y1="765" x2="841.3" y2="777.8" stroke="#8a8a8a" stroke-width="1" />
<line x1="943.5" y1="765" x2="943.5" y2="777.8" stroke="#8a8a8a" stroke-width="1" />
<line x1="962.8" y1="765" x2="962.8" y2="777.8" stroke="#8a8a8a" stroke-width="1" />
<line x1="1161.6" y1="765" x2="1161.6" y2="780" stroke="#8a8a8a" stroke-width="1" />
<line x1="698.3" y1="767.5" x2="731.8" y2="767.5" stroke="#8a8a8a" stroke-width="1" />
<line x1="787.3" y1="767.5" x2="820.3" y2="767.5" stroke="#8a8a8a" stroke-width="1" />
<text x="737.38" y="772.25" font-size="15.6" fill="#6a6a6a" text-anchor="start" font-weight="normal" textLength="22.28" lengthAdjust="spacingAndGlyphs">155</text>
<text x="772.38" y="772.25" font-size="15.6" fill="#6a6a6a" text-anchor="start" font-weight="normal" textLength="7.27" lengthAdjust="spacingAndGlyphs">5</text>
<line x1="761.8" y1="765.55" x2="770.5" y2="765.55" stroke="#6a6a6a" stroke-width="1.1" />
<line x1="761.8" y1="769.85" x2="770.5" y2="769.85" stroke="#6a6a6a" stroke-width="1.1" />
<line x1="766.15" y1="761.75" x2="766.15" y2="769.85" stroke="#6a6a6a" stroke-width="1.15" />
<polygon points="698.3,767.5 708.3,765.6 708.3,769.4" stroke="none" stroke-width="1.1" fill="#5a5a5a"/>
<polygon points="820.3,767.5 810.3,765.6 810.3,769.4" stroke="none" stroke-width="1.1" fill="#5a5a5a"/>
<line x1="841.3" y1="767.5" x2="865.3" y2="767.5" stroke="#8a8a8a" stroke-width="1" />
<line x1="919" y1="767.5" x2="943.5" y2="767.5" stroke="#8a8a8a" stroke-width="1" />
<text x="870.28" y="772.25" font-size="15.6" fill="#6a6a6a" text-anchor="start" font-weight="normal" textLength="22.39" lengthAdjust="spacingAndGlyphs">155</text>
<text x="905.38" y="772.25" font-size="15.6" fill="#6a6a6a" text-anchor="start" font-weight="normal" textLength="7.27" lengthAdjust="spacingAndGlyphs">5</text>
<line x1="894.8" y1="765.55" x2="903.5" y2="765.55" stroke="#6a6a6a" stroke-width="1.1" />
<line x1="894.8" y1="769.85" x2="903.5" y2="769.85" stroke="#6a6a6a" stroke-width="1.1" />
<line x1="899.15" y1="761.75" x2="899.15" y2="769.85" stroke="#6a6a6a" stroke-width="1.15" />
<polygon points="841.3,767.5 851.3,765.6 851.3,769.4" stroke="none" stroke-width="1.1" fill="#5a5a5a"/>
<polygon points="943.5,767.5 933.5,765.6 933.5,769.4" stroke="none" stroke-width="1.1" fill="#5a5a5a"/>
<line x1="962.8" y1="767.5" x2="1026.9" y2="767.5" stroke="#8a8a8a" stroke-width="1" />
<line x1="1083.2" y1="767.5" x2="1161.6" y2="767.5" stroke="#8a8a8a" stroke-width="1" />
<text x="1033.4" y="772.25" font-size="15.6" fill="#6a6a6a" text-anchor="start" font-weight="normal" textLength="24.98" lengthAdjust="spacingAndGlyphs">500</text>
<text x="1071.08" y="772.25" font-size="15.6" fill="#6a6a6a" text-anchor="start" font-weight="normal" textLength="7.27" lengthAdjust="spacingAndGlyphs">5</text>
<line x1="1060.5" y1="765.55" x2="1069.2" y2="765.55" stroke="#6a6a6a" stroke-width="1.1" />
<line x1="1060.5" y1="769.85" x2="1069.2" y2="769.85" stroke="#6a6a6a" stroke-width="1.1" />
<line x1="1064.85" y1="761.75" x2="1064.85" y2="769.85" stroke="#6a6a6a" stroke-width="1.15" />
<polygon points="962.8,767.5 972.8,765.6 972.8,769.4" stroke="none" stroke-width="1.1" fill="#5a5a5a"/>
<polygon points="1161.6,767.5 1151.6,765.6 1151.6,769.4" stroke="none" stroke-width="1.1" fill="#5a5a5a"/>
<line x1="700.9" y1="842.3" x2="784.5" y2="842.3" stroke="#8a8a8a" stroke-width="1" />
<line x1="652.5" y1="868.1" x2="784.5" y2="868.1" stroke="#8a8a8a" stroke-width="1" />
<line x1="784.5" y1="842.3" x2="784.5" y2="868.1" stroke="#8a8a8a" stroke-width="1" />
<polygon points="700.9,842.3 707.9,841 707.9,843.6" stroke="none" stroke-width="1.1" fill="#5a5a5a"/>
<polygon points="652.5,868.1 659.5,866.8 659.5,869.4" stroke="none" stroke-width="1.1" fill="#5a5a5a"/>
<text x="731.97" y="860.85" font-size="15.6" fill="#6a6a6a" text-anchor="start" font-weight="normal" textLength="22.56" lengthAdjust="spacingAndGlyphs">100</text>
<text x="767.28" y="860.85" font-size="15.6" fill="#6a6a6a" text-anchor="start" font-weight="normal" textLength="7.27" lengthAdjust="spacingAndGlyphs">5</text>
<line x1="756.7" y1="854.15" x2="765.4" y2="854.15" stroke="#6a6a6a" stroke-width="1.1" />
<line x1="756.7" y1="858.45" x2="765.4" y2="858.45" stroke="#6a6a6a" stroke-width="1.1" />
<line x1="761.05" y1="850.35" x2="761.05" y2="858.45" stroke="#6a6a6a" stroke-width="1.15" />
<path d="M705.4,800.8 L705.4,886.2 Q705.4,889.2 702.4,889.2 L683.8,889.2" stroke="#141414" stroke-width="1.1" fill="none" />
<path d="M709.4,800.8 L709.4,890.4 Q709.4,893.4 706.4,893.4 L683.8,893.4" stroke="#141414" stroke-width="1.1" fill="none" />
<path d="M713.6,808.9 L713.6,894.5 Q713.6,897.5 710.6,897.5 L683.8,897.5" stroke="#141414" stroke-width="1.1" fill="none" />
<path d="M717.8,817.1 L717.8,898.3 Q717.8,901.3 714.8,901.3 L683.8,901.3" stroke="#141414" stroke-width="1.1" fill="none" />
<path d="M722,826.2 L722,902.3 Q722,905.3 719,905.3 L683.8,905.3" stroke="#141414" stroke-width="1.1" fill="none" />
<rect x="699.2" y="796.8" width="27.8" height="3.5" stroke="none" stroke-width="1.1" fill="#fff" />
<rect x="699.2" y="805.4" width="27.8" height="3" stroke="none" stroke-width="1.1" fill="#fff" />
<rect x="699.2" y="813.5" width="27.8" height="3.1" stroke="none" stroke-width="1.1" fill="#fff" />
<rect x="699.2" y="822.1" width="27.8" height="3.6" stroke="none" stroke-width="1.1" fill="#fff" />
<path d="M698.6,796.3 L725,796.3 C735,796.3 735,817.1 745,817.1 L783,817.1 C791.5,817.1 791.5,821.6 800,821.6 L821,821.6" stroke="#141414" stroke-width="1.1" fill="none" />
<path d="M698.6,800.8 L725,800.8 C735,800.8 735,821.6 745,821.6 L783,821.6 C791.5,821.6 791.5,829.8 800,829.8 L821,829.8" stroke="#141414" stroke-width="1.1" fill="none" />
<path d="M698.6,804.9 L725,804.9 L745,804.9 L783,804.9 C791.5,804.9 791.5,800.3 800,800.3 L821,800.3" stroke="#141414" stroke-width="1.1" fill="none" />
<path d="M698.6,808.9 L725,808.9 L745,808.9 L783,808.9 C791.5,808.9 791.5,804.4 800,804.4 L821,804.4" stroke="#141414" stroke-width="1.1" fill="none" />
<path d="M698.6,813 L725,813 L745,813 L783,813 L800,813 L821,813" stroke="#141414" stroke-width="1.1" fill="none" />
<path d="M698.6,817.1 L725,817.1 L745,817.1 L783,817.1 C791.5,817.1 791.5,825.7 800,825.7 L821,825.7" stroke="#141414" stroke-width="1.1" fill="none" />
<path d="M698.6,821.6 L725,821.6 C735,821.6 735,808.9 745,808.9 L783,808.9 L800,808.9 L821,808.9" stroke="#141414" stroke-width="1.1" fill="none" />
<path d="M698.6,826.2 L725,826.2 C735,826.2 735,813 745,813 L783,813 C791.5,813 791.5,817.1 800,817.1 L821,817.1" stroke="#141414" stroke-width="1.1" fill="none" />
<path d="M648.6,882.5 L662,882.5 C673.25,882.5 673.25,889.2 684.5,889.2" stroke="#141414" stroke-width="1.1" fill="none" />
<path d="M648.6,886.9 L662,886.9 C673.25,886.9 673.25,893.4 684.5,893.4" stroke="#141414" stroke-width="1.1" fill="none" />
<path d="M648.6,890.8 L662,890.8 C673.25,890.8 673.25,893.4 684.5,893.4" stroke="#141414" stroke-width="1.1" fill="none" />
<path d="M648.6,894.7 L662,894.7 C673.25,894.7 673.25,897.5 684.5,897.5" stroke="#141414" stroke-width="1.1" fill="none" />
<path d="M648.6,898.6 L662,898.6 C673.25,898.6 673.25,897.5 684.5,897.5" stroke="#141414" stroke-width="1.1" fill="none" />
<path d="M648.6,902.5 L662,902.5 C673.25,902.5 673.25,901.3 684.5,901.3" stroke="#141414" stroke-width="1.1" fill="none" />
<path d="M648.6,907.2 L662,907.2 C673.25,907.2 673.25,901.3 684.5,901.3" stroke="#141414" stroke-width="1.1" fill="none" />
<path d="M648.6,912.2 L662,912.2 C673.25,912.2 673.25,905.3 684.5,905.3" stroke="#141414" stroke-width="1.1" fill="none" />
<path d="M840.7,792.3 L855,792.3 C863.75,792.3 863.75,800.5 872.5,800.5 L907,800.5 C915.5,800.5 915.5,792.3 924,792.3 L942.5,792.3" stroke="#141414" stroke-width="1.1" fill="none" />
<path d="M840.7,796.2 L855,796.2 C863.75,796.2 863.75,804.6 872.5,804.6 L907,804.6 C915.5,804.6 915.5,796.2 924,796.2 L942.5,796.2" stroke="#141414" stroke-width="1.1" fill="none" />
<path d="M840.7,800.5 L855,800.5 C863.75,800.5 863.75,804.6 872.5,804.6 L907,804.6 C915.5,804.6 915.5,800.5 924,800.5 L942.5,800.5" stroke="#141414" stroke-width="1.1" fill="none" />
<path d="M840.7,804.8 L855,804.8 C863.75,804.8 863.75,808.6 872.5,808.6 L907,808.6 C915.5,808.6 915.5,804.8 924,804.8 L942.5,804.8" stroke="#141414" stroke-width="1.1" fill="none" />
<path d="M840.7,808.6 L855,808.6 L872.5,808.6 L907,808.6 L924,808.6 L942.5,808.6" stroke="#141414" stroke-width="1.1" fill="none" />
<path d="M840.7,812.9 L855,812.9 L872.5,812.9 L907,812.9 L924,812.9 L942.5,812.9" stroke="#141414" stroke-width="1.1" fill="none" />
<path d="M840.7,817.2 L855,817.2 C863.75,817.2 863.75,812.9 872.5,812.9 L907,812.9 C915.5,812.9 915.5,817.2 924,817.2 L942.5,817.2" stroke="#141414" stroke-width="1.1" fill="none" />
<path d="M840.7,821.5 L855,821.5 C863.75,821.5 863.75,817.2 872.5,817.2 L907,817.2 C915.5,817.2 915.5,821.5 924,821.5 L942.5,821.5" stroke="#141414" stroke-width="1.1" fill="none" />
<path d="M840.7,825.4 L855,825.4 C863.75,825.4 863.75,817.2 872.5,817.2 L907,817.2 C915.5,817.2 915.5,825.4 924,825.4 L942.5,825.4" stroke="#141414" stroke-width="1.1" fill="none" />
<path d="M840.7,830.1 L855,830.1 C863.75,830.1 863.75,821.5 872.5,821.5 L907,821.5 C915.5,821.5 915.5,830.1 924,830.1 L942.5,830.1" stroke="#141414" stroke-width="1.1" fill="none" />
<path d="M962.6,792.5 L980,792.5 C988.75,792.5 988.75,800.6 997.5,800.6 L1080,800.6 C1089.5,800.6 1089.5,792.5 1099,792.5 L1163,792.5" stroke="#141414" stroke-width="1.1" fill="none" />
<path d="M962.6,796.9 L980,796.9 C988.75,796.9 988.75,805 997.5,805 L1080,805 C1089.5,805 1089.5,796.9 1099,796.9 L1163,796.9" stroke="#141414" stroke-width="1.1" fill="none" />
<path d="M962.6,800.6 L980,800.6 C988.75,800.6 988.75,805 997.5,805 L1080,805 C1089.5,805 1089.5,800.6 1099,800.6 L1163,800.6" stroke="#141414" stroke-width="1.1" fill="none" />
<path d="M962.6,805 L980,805 C988.75,805 988.75,808.75 997.5,808.75 L1080,808.75 C1089.5,808.75 1089.5,805 1099,805 L1163,805" stroke="#141414" stroke-width="1.1" fill="none" />
<path d="M962.6,808.75 L980,808.75 L997.5,808.75 L1080,808.75 L1099,808.75 L1163,808.75" stroke="#141414" stroke-width="1.1" fill="none" />
<path d="M962.6,813.1 L980,813.1 L997.5,813.1 L1080,813.1 L1099,813.1 L1163,813.1" stroke="#141414" stroke-width="1.1" fill="none" />
<path d="M962.6,817.5 L980,817.5 C988.75,817.5 988.75,813.1 997.5,813.1 L1080,813.1 C1089.5,813.1 1089.5,817.5 1099,817.5 L1163,817.5" stroke="#141414" stroke-width="1.1" fill="none" />
<path d="M962.6,821.9 L980,821.9 C988.75,821.9 988.75,817.5 997.5,817.5 L1080,817.5 C1089.5,817.5 1089.5,821.9 1099,821.9 L1163,821.9" stroke="#141414" stroke-width="1.1" fill="none" />
<path d="M962.6,826.25 L980,826.25 C988.75,826.25 988.75,817.5 997.5,817.5 L1080,817.5 C1089.5,817.5 1089.5,826.25 1099,826.25 L1163,826.25" stroke="#141414" stroke-width="1.1" fill="none" />
<path d="M962.6,830 L980,830 C988.75,830 988.75,821.5 997.5,821.5 L1080,821.5 C1089.5,821.5 1089.5,830 1099,830 L1163,830" stroke="#141414" stroke-width="1.1" fill="none" />
<polygon points="1135.3,781 1111.8,844.5 1124.4,844.5 1148.6,781" stroke="none" stroke-width="1.1" fill="#fff"/>
<line x1="1135.3" y1="781" x2="1111.8" y2="844.5" stroke="#141414" stroke-width="1.1" />
<line x1="1148.6" y1="781" x2="1124.4" y2="844.5" stroke="#141414" stroke-width="1.1" />
<polygon points="686.4,789.2 693.4,780.8 698.6,780.8 698.6,789.2" stroke="#141414" stroke-width="1.1" fill="#fff"/>
<polygon points="686.4,833.3 693.4,841.7 698.6,841.7 698.6,833.3" stroke="#141414" stroke-width="1.1" fill="#fff"/>
<rect x="648.3" y="789.2" width="50.3" height="44.1" stroke="#141414" stroke-width="1.1" fill="#fff" />
<line x1="668.1" y1="789.2" x2="668.1" y2="833.3" stroke="#141414" stroke-width="1.1" />
<line x1="671.4" y1="789.2" x2="671.4" y2="833.3" stroke="#141414" stroke-width="1.1" />
<line x1="648.3" y1="793" x2="668.1" y2="793" stroke="#141414" stroke-width="1.1" />
<line x1="648.3" y1="828.6" x2="668.1" y2="828.6" stroke="#141414" stroke-width="1.1" />
<rect x="651.3" y="793.9" width="10.4" height="11.3" stroke="#141414" stroke-width="1.1" fill="#fff" />
<line x1="655" y1="793.9" x2="655" y2="805.2" stroke="#141414" stroke-width="0.8" />
<line x1="659" y1="793.9" x2="659" y2="805.2" stroke="#141414" stroke-width="0.8" />
<rect x="651.3" y="817.3" width="10.4" height="11.3" stroke="#141414" stroke-width="1.1" fill="#fff" />
<line x1="655" y1="817.3" x2="655" y2="828.6" stroke="#141414" stroke-width="0.8" />
<line x1="659" y1="817.3" x2="659" y2="828.6" stroke="#141414" stroke-width="0.8" />
<line x1="671.4" y1="799.1" x2="698.6" y2="802.8" stroke="#141414" stroke-width="1.1" />
<line x1="671.4" y1="823.4" x2="698.6" y2="819.2" stroke="#141414" stroke-width="1.1" />
<polygon points="635.9,875.7 642.9,867.3 648.1,867.3 648.1,875.7" stroke="#141414" stroke-width="1.1" fill="#fff"/>
<polygon points="635.9,919.8 642.9,928.2 648.1,928.2 648.1,919.8" stroke="#141414" stroke-width="1.1" fill="#fff"/>
<rect x="597.8" y="875.7" width="50.3" height="44.1" stroke="#141414" stroke-width="1.1" fill="#fff" />
<line x1="617.6" y1="875.7" x2="617.6" y2="919.8" stroke="#141414" stroke-width="1.1" />
<line x1="620.9" y1="875.7" x2="620.9" y2="919.8" stroke="#141414" stroke-width="1.1" />
<line x1="597.8" y1="879.5" x2="617.6" y2="879.5" stroke="#141414" stroke-width="1.1" />
<line x1="597.8" y1="915.1" x2="617.6" y2="915.1" stroke="#141414" stroke-width="1.1" />
<rect x="600.8" y="880.4" width="10.4" height="11.3" stroke="#141414" stroke-width="1.1" fill="#fff" />
<line x1="604.5" y1="880.4" x2="604.5" y2="891.7" stroke="#141414" stroke-width="0.8" />
<line x1="608.5" y1="880.4" x2="608.5" y2="891.7" stroke="#141414" stroke-width="0.8" />
<rect x="600.8" y="903.8" width="10.4" height="11.3" stroke="#141414" stroke-width="1.1" fill="#fff" />
<line x1="604.5" y1="903.8" x2="604.5" y2="915.1" stroke="#141414" stroke-width="0.8" />
<line x1="608.5" y1="903.8" x2="608.5" y2="915.1" stroke="#141414" stroke-width="0.8" />
<line x1="620.9" y1="885.6" x2="648.1" y2="889.3" stroke="#141414" stroke-width="1.1" />
<line x1="620.9" y1="909.9" x2="648.1" y2="905.7" stroke="#141414" stroke-width="1.1" />
<rect x="827.5" y="836.5" width="6.3" height="3.9" stroke="#141414" stroke-width="1.2" fill="#fff" />
<rect x="820.4" y="784.6" width="20.2" height="52.8" stroke="#141414" stroke-width="1.1" fill="#fff" />
<line x1="824.2" y1="784.6" x2="824.2" y2="837.4" stroke="#777" stroke-width="0.9" />
<line x1="837.7" y1="784.6" x2="837.7" y2="837.4" stroke="#777" stroke-width="0.9" />
<rect x="824.7" y="786.3" width="12.5" height="49.4" stroke="#141414" stroke-width="1.2" fill="#fff" />
<rect x="833" y="791" width="3.4" height="43" stroke="none" stroke-width="1.1" fill="#8a8a8a" />
<path d="M828,790.6 L828,786.8 L834.6,786.8 L834.6,834 L830.4,834 L830.4,790.6 Z" stroke="none" stroke-width="1.1" fill="#111" />
<rect x="829" y="787.8" width="4.6" height="1.8" stroke="none" stroke-width="1.1" fill="#fff" />
<line x1="832.2" y1="793" x2="833.6" y2="793" stroke="#bbb" stroke-width="0.8" />
<line x1="832.2" y1="797" x2="833.6" y2="797" stroke="#bbb" stroke-width="0.8" />
<line x1="832.2" y1="801" x2="833.6" y2="801" stroke="#bbb" stroke-width="0.8" />
<line x1="832.2" y1="805" x2="833.6" y2="805" stroke="#bbb" stroke-width="0.8" />
<line x1="832.2" y1="809" x2="833.6" y2="809" stroke="#bbb" stroke-width="0.8" />
<line x1="832.2" y1="813" x2="833.6" y2="813" stroke="#bbb" stroke-width="0.8" />
<line x1="832.2" y1="817" x2="833.6" y2="817" stroke="#bbb" stroke-width="0.8" />
<line x1="832.2" y1="821" x2="833.6" y2="821" stroke="#bbb" stroke-width="0.8" />
<line x1="832.2" y1="825" x2="833.6" y2="825" stroke="#bbb" stroke-width="0.8" />
<line x1="832.2" y1="829" x2="833.6" y2="829" stroke="#bbb" stroke-width="0.8" />
<rect x="829" y="838" width="3.3" height="1.6" stroke="none" stroke-width="1.1" fill="#fff" />
<rect x="949.6" y="836.5" width="6.3" height="3.9" stroke="#141414" stroke-width="1.2" fill="#fff" />
<rect x="942.5" y="784.6" width="20.2" height="52.8" stroke="#141414" stroke-width="1.1" fill="#fff" />
<line x1="946.3" y1="784.6" x2="946.3" y2="837.4" stroke="#777" stroke-width="0.9" />
<line x1="959.8" y1="784.6" x2="959.8" y2="837.4" stroke="#777" stroke-width="0.9" />
<rect x="946.8" y="786.3" width="12.5" height="49.4" stroke="#141414" stroke-width="1.2" fill="#fff" />
<rect x="955.1" y="791" width="3.4" height="43" stroke="none" stroke-width="1.1" fill="#8a8a8a" />
<path d="M950.1,790.6 L950.1,786.8 L956.7,786.8 L956.7,834 L952.5,834 L952.5,790.6 Z" stroke="none" stroke-width="1.1" fill="#111" />
<rect x="951.1" y="787.8" width="4.6" height="1.8" stroke="none" stroke-width="1.1" fill="#fff" />
<line x1="954.3" y1="793" x2="955.7" y2="793" stroke="#bbb" stroke-width="0.8" />
<line x1="954.3" y1="797" x2="955.7" y2="797" stroke="#bbb" stroke-width="0.8" />
<line x1="954.3" y1="801" x2="955.7" y2="801" stroke="#bbb" stroke-width="0.8" />
<line x1="954.3" y1="805" x2="955.7" y2="805" stroke="#bbb" stroke-width="0.8" />
<line x1="954.3" y1="809" x2="955.7" y2="809" stroke="#bbb" stroke-width="0.8" />
<line x1="954.3" y1="813" x2="955.7" y2="813" stroke="#bbb" stroke-width="0.8" />
<line x1="954.3" y1="817" x2="955.7" y2="817" stroke="#bbb" stroke-width="0.8" />
<line x1="954.3" y1="821" x2="955.7" y2="821" stroke="#bbb" stroke-width="0.8" />
<line x1="954.3" y1="825" x2="955.7" y2="825" stroke="#bbb" stroke-width="0.8" />
<line x1="954.3" y1="829" x2="955.7" y2="829" stroke="#bbb" stroke-width="0.8" />
<rect x="951.1" y="838" width="3.3" height="1.6" stroke="none" stroke-width="1.1" fill="#fff" />
<path d="M1164.2,839.8 L1177.3,839.8 L1177.3,836.8 L1181.7,836.8 L1181.7,840 L1192.6,840 L1193.4,837.1 L1196.4,837.1 Q1199.9,838.3 1199.7,841.7 Q1199.4,845.4 1196.5,845.8 L1165.2,846 L1164.2,845.1 Z" stroke="#141414" stroke-width="1.1" fill="#fff" />
<path d="M1180.6,836.8 L1180.6,842.2 L1168.9,842.9 L1166.7,845.8" stroke="#141414" stroke-width="1" fill="none" />
<rect x="1188" y="814.9" width="20.2" height="2.2" stroke="#141414" stroke-width="0.6" fill="#8a8a8a" />
<rect x="1188" y="787.5" width="20.2" height="7.7" stroke="#141414" stroke-width="1.1" fill="#fff" />
<rect x="1188" y="797.9" width="20.2" height="7.1" stroke="#141414" stroke-width="1.1" fill="#fff" />
<rect x="1188" y="807" width="20.2" height="7.9" stroke="#141414" stroke-width="1.1" fill="#fff" />
<rect x="1188" y="817.1" width="20.2" height="7.1" stroke="#141414" stroke-width="1.1" fill="#fff" />
<rect x="1188" y="826.1" width="20.2" height="7.9" stroke="#141414" stroke-width="1.1" fill="#fff" />
<rect x="1162.6" y="785.1" width="25.4" height="51.7" rx="1.2" stroke="#141414" stroke-width="1.1" fill="#fff"/>
<rect x="1162.6" y="785.4" width="2.8" height="15.7" stroke="#141414" stroke-width="1" fill="#fff" />
<rect x="1162.6" y="820.1" width="2.8" height="16.4" stroke="#141414" stroke-width="1" fill="#fff" />
<text x="1217.25" y="820.6" font-size="27.74" fill="#0a0a0a" text-anchor="start" font-weight="normal" textLength="28.99" lengthAdjust="spacingAndGlyphs">x2</text>
<text x="1044.67" y="1242.75" font-size="24" fill="#8c8c8c" text-anchor="start" font-weight="normal" textLength="206.23" lengthAdjust="spacingAndGlyphs">A unit of length: mm</text>
</svg>
</body></html>
